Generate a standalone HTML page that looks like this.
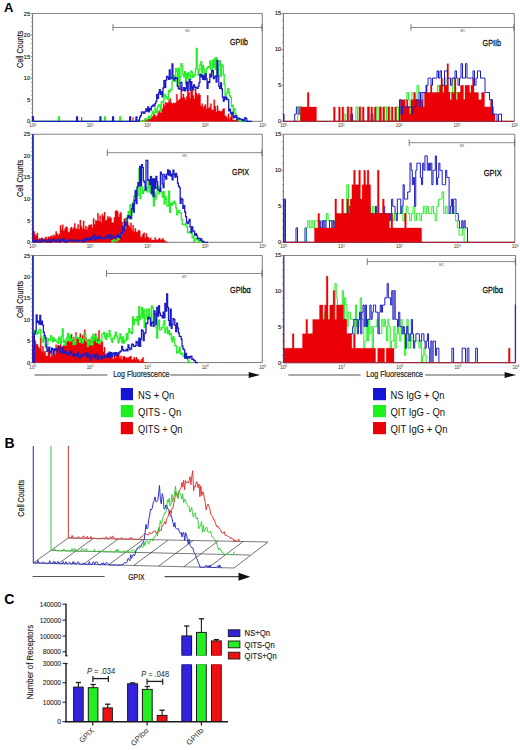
<!DOCTYPE html>
<html><head><meta charset="utf-8"><style>
html,body{margin:0;padding:0;background:#fff;}
svg{display:block;font-family:"Liberation Sans", sans-serif;}
</style></head><body>
<svg width="520" height="750" viewBox="0 0 520 750">
<rect width="520" height="750" fill="#fff"/>
<line x1="32.5" y1="13.5" x2="262.3" y2="13.5" stroke="#858585" stroke-width="1.1" />
<line x1="262.3" y1="13.5" x2="262.3" y2="121.3" stroke="#858585" stroke-width="1.1" />
<line x1="32.5" y1="13.5" x2="32.5" y2="121.3" stroke="#7a7a7a" stroke-width="1.1" />
<line x1="32.5" y1="121.3" x2="262.3" y2="121.3" stroke="#7a7a7a" stroke-width="1" />
<line x1="30.5" y1="121.3" x2="32.5" y2="121.3" stroke="#666" stroke-width="0.7" />
<line x1="31.3" y1="116.99" x2="32.5" y2="116.99" stroke="#666" stroke-width="0.7" />
<line x1="31.3" y1="112.68" x2="32.5" y2="112.68" stroke="#666" stroke-width="0.7" />
<line x1="31.3" y1="108.36" x2="32.5" y2="108.36" stroke="#666" stroke-width="0.7" />
<line x1="31.3" y1="104.05" x2="32.5" y2="104.05" stroke="#666" stroke-width="0.7" />
<line x1="30.5" y1="99.74" x2="32.5" y2="99.74" stroke="#666" stroke-width="0.7" />
<line x1="31.3" y1="95.43" x2="32.5" y2="95.43" stroke="#666" stroke-width="0.7" />
<line x1="31.3" y1="91.12" x2="32.5" y2="91.12" stroke="#666" stroke-width="0.7" />
<line x1="31.3" y1="86.8" x2="32.5" y2="86.8" stroke="#666" stroke-width="0.7" />
<line x1="31.3" y1="82.49" x2="32.5" y2="82.49" stroke="#666" stroke-width="0.7" />
<line x1="30.5" y1="78.18" x2="32.5" y2="78.18" stroke="#666" stroke-width="0.7" />
<line x1="31.3" y1="73.87" x2="32.5" y2="73.87" stroke="#666" stroke-width="0.7" />
<line x1="31.3" y1="69.56" x2="32.5" y2="69.56" stroke="#666" stroke-width="0.7" />
<line x1="31.3" y1="65.24" x2="32.5" y2="65.24" stroke="#666" stroke-width="0.7" />
<line x1="31.3" y1="60.93" x2="32.5" y2="60.93" stroke="#666" stroke-width="0.7" />
<line x1="30.5" y1="56.62" x2="32.5" y2="56.62" stroke="#666" stroke-width="0.7" />
<line x1="31.3" y1="52.31" x2="32.5" y2="52.31" stroke="#666" stroke-width="0.7" />
<line x1="31.3" y1="48" x2="32.5" y2="48" stroke="#666" stroke-width="0.7" />
<line x1="31.3" y1="43.68" x2="32.5" y2="43.68" stroke="#666" stroke-width="0.7" />
<line x1="31.3" y1="39.37" x2="32.5" y2="39.37" stroke="#666" stroke-width="0.7" />
<line x1="30.5" y1="35.06" x2="32.5" y2="35.06" stroke="#666" stroke-width="0.7" />
<line x1="31.3" y1="30.75" x2="32.5" y2="30.75" stroke="#666" stroke-width="0.7" />
<line x1="31.3" y1="26.44" x2="32.5" y2="26.44" stroke="#666" stroke-width="0.7" />
<line x1="31.3" y1="22.12" x2="32.5" y2="22.12" stroke="#666" stroke-width="0.7" />
<line x1="31.3" y1="17.81" x2="32.5" y2="17.81" stroke="#666" stroke-width="0.7" />
<line x1="30.5" y1="13.5" x2="32.5" y2="13.5" stroke="#666" stroke-width="0.7" />
<text x="30.1" y="123.3" font-size="5.6" text-anchor="end" fill="#222" stroke="#222" stroke-width="0.15" >0</text>
<text x="30.1" y="101.74" font-size="5.6" text-anchor="end" fill="#222" stroke="#222" stroke-width="0.15" >5</text>
<text x="30.1" y="80.18" font-size="5.6" text-anchor="end" fill="#222" stroke="#222" stroke-width="0.15" >10</text>
<text x="30.1" y="58.62" font-size="5.6" text-anchor="end" fill="#222" stroke="#222" stroke-width="0.15" >15</text>
<text x="30.1" y="37.06" font-size="5.6" text-anchor="end" fill="#222" stroke="#222" stroke-width="0.15" >20</text>
<text x="30.1" y="15.5" font-size="5.6" text-anchor="end" fill="#222" stroke="#222" stroke-width="0.15" >25</text>
<text x="32.8" y="127.2" font-size="4.6" text-anchor="middle" fill="#333">10<tspan dy="-1.6" font-size="3.2">0</tspan></text>
<text x="90.25" y="127.2" font-size="4.6" text-anchor="middle" fill="#333">10<tspan dy="-1.6" font-size="3.2">1</tspan></text>
<text x="147.7" y="127.2" font-size="4.6" text-anchor="middle" fill="#333">10<tspan dy="-1.6" font-size="3.2">2</tspan></text>
<text x="205.15" y="127.2" font-size="4.6" text-anchor="middle" fill="#333">10<tspan dy="-1.6" font-size="3.2">3</tspan></text>
<text x="262.6" y="127.2" font-size="4.6" text-anchor="middle" fill="#333">10<tspan dy="-1.6" font-size="3.2">4</tspan></text>
<line x1="283.4" y1="13.5" x2="514.3" y2="13.5" stroke="#858585" stroke-width="1.1" />
<line x1="514.3" y1="13.5" x2="514.3" y2="121.3" stroke="#858585" stroke-width="1.1" />
<line x1="283.4" y1="13.5" x2="283.4" y2="121.3" stroke="#7a7a7a" stroke-width="1.1" />
<line x1="283.4" y1="121.3" x2="514.3" y2="121.3" stroke="#7a7a7a" stroke-width="1" />
<line x1="281.4" y1="121.3" x2="283.4" y2="121.3" stroke="#666" stroke-width="0.7" />
<line x1="282.2" y1="114.11" x2="283.4" y2="114.11" stroke="#666" stroke-width="0.7" />
<line x1="282.2" y1="106.93" x2="283.4" y2="106.93" stroke="#666" stroke-width="0.7" />
<line x1="282.2" y1="99.74" x2="283.4" y2="99.74" stroke="#666" stroke-width="0.7" />
<line x1="282.2" y1="92.55" x2="283.4" y2="92.55" stroke="#666" stroke-width="0.7" />
<line x1="281.4" y1="85.37" x2="283.4" y2="85.37" stroke="#666" stroke-width="0.7" />
<line x1="282.2" y1="78.18" x2="283.4" y2="78.18" stroke="#666" stroke-width="0.7" />
<line x1="282.2" y1="70.99" x2="283.4" y2="70.99" stroke="#666" stroke-width="0.7" />
<line x1="282.2" y1="63.81" x2="283.4" y2="63.81" stroke="#666" stroke-width="0.7" />
<line x1="282.2" y1="56.62" x2="283.4" y2="56.62" stroke="#666" stroke-width="0.7" />
<line x1="281.4" y1="49.43" x2="283.4" y2="49.43" stroke="#666" stroke-width="0.7" />
<line x1="282.2" y1="42.25" x2="283.4" y2="42.25" stroke="#666" stroke-width="0.7" />
<line x1="282.2" y1="35.06" x2="283.4" y2="35.06" stroke="#666" stroke-width="0.7" />
<line x1="282.2" y1="27.87" x2="283.4" y2="27.87" stroke="#666" stroke-width="0.7" />
<line x1="282.2" y1="20.69" x2="283.4" y2="20.69" stroke="#666" stroke-width="0.7" />
<line x1="281.4" y1="13.5" x2="283.4" y2="13.5" stroke="#666" stroke-width="0.7" />
<text x="281.2" y="123.2" font-size="5.6" text-anchor="end" fill="#222" stroke="#222" stroke-width="0.15" >0</text>
<text x="281.2" y="87.27" font-size="5.6" text-anchor="end" fill="#222" stroke="#222" stroke-width="0.15" >5</text>
<text x="281.2" y="51.33" font-size="5.6" text-anchor="end" fill="#222" stroke="#222" stroke-width="0.15" >10</text>
<text x="281.2" y="15.4" font-size="5.6" text-anchor="end" fill="#222" stroke="#222" stroke-width="0.15" >15</text>
<text x="283.7" y="127.2" font-size="4.6" text-anchor="middle" fill="#333">10<tspan dy="-1.6" font-size="3.2">0</tspan></text>
<text x="341.43" y="127.2" font-size="4.6" text-anchor="middle" fill="#333">10<tspan dy="-1.6" font-size="3.2">1</tspan></text>
<text x="399.15" y="127.2" font-size="4.6" text-anchor="middle" fill="#333">10<tspan dy="-1.6" font-size="3.2">2</tspan></text>
<text x="456.87" y="127.2" font-size="4.6" text-anchor="middle" fill="#333">10<tspan dy="-1.6" font-size="3.2">3</tspan></text>
<text x="514.6" y="127.2" font-size="4.6" text-anchor="middle" fill="#333">10<tspan dy="-1.6" font-size="3.2">4</tspan></text>
<line x1="32.5" y1="134.2" x2="262.3" y2="134.2" stroke="#858585" stroke-width="1.1" />
<line x1="262.3" y1="134.2" x2="262.3" y2="242.3" stroke="#858585" stroke-width="1.1" />
<line x1="32.5" y1="134.2" x2="32.5" y2="242.3" stroke="#7a7a7a" stroke-width="1.1" />
<line x1="32.5" y1="242.3" x2="262.3" y2="242.3" stroke="#7a7a7a" stroke-width="1" />
<line x1="30.5" y1="242.3" x2="32.5" y2="242.3" stroke="#666" stroke-width="0.7" />
<line x1="31.3" y1="237.98" x2="32.5" y2="237.98" stroke="#666" stroke-width="0.7" />
<line x1="31.3" y1="233.65" x2="32.5" y2="233.65" stroke="#666" stroke-width="0.7" />
<line x1="31.3" y1="229.33" x2="32.5" y2="229.33" stroke="#666" stroke-width="0.7" />
<line x1="31.3" y1="225" x2="32.5" y2="225" stroke="#666" stroke-width="0.7" />
<line x1="30.5" y1="220.68" x2="32.5" y2="220.68" stroke="#666" stroke-width="0.7" />
<line x1="31.3" y1="216.36" x2="32.5" y2="216.36" stroke="#666" stroke-width="0.7" />
<line x1="31.3" y1="212.03" x2="32.5" y2="212.03" stroke="#666" stroke-width="0.7" />
<line x1="31.3" y1="207.71" x2="32.5" y2="207.71" stroke="#666" stroke-width="0.7" />
<line x1="31.3" y1="203.38" x2="32.5" y2="203.38" stroke="#666" stroke-width="0.7" />
<line x1="30.5" y1="199.06" x2="32.5" y2="199.06" stroke="#666" stroke-width="0.7" />
<line x1="31.3" y1="194.74" x2="32.5" y2="194.74" stroke="#666" stroke-width="0.7" />
<line x1="31.3" y1="190.41" x2="32.5" y2="190.41" stroke="#666" stroke-width="0.7" />
<line x1="31.3" y1="186.09" x2="32.5" y2="186.09" stroke="#666" stroke-width="0.7" />
<line x1="31.3" y1="181.76" x2="32.5" y2="181.76" stroke="#666" stroke-width="0.7" />
<line x1="30.5" y1="177.44" x2="32.5" y2="177.44" stroke="#666" stroke-width="0.7" />
<line x1="31.3" y1="173.12" x2="32.5" y2="173.12" stroke="#666" stroke-width="0.7" />
<line x1="31.3" y1="168.79" x2="32.5" y2="168.79" stroke="#666" stroke-width="0.7" />
<line x1="31.3" y1="164.47" x2="32.5" y2="164.47" stroke="#666" stroke-width="0.7" />
<line x1="31.3" y1="160.14" x2="32.5" y2="160.14" stroke="#666" stroke-width="0.7" />
<line x1="30.5" y1="155.82" x2="32.5" y2="155.82" stroke="#666" stroke-width="0.7" />
<line x1="31.3" y1="151.5" x2="32.5" y2="151.5" stroke="#666" stroke-width="0.7" />
<line x1="31.3" y1="147.17" x2="32.5" y2="147.17" stroke="#666" stroke-width="0.7" />
<line x1="31.3" y1="142.85" x2="32.5" y2="142.85" stroke="#666" stroke-width="0.7" />
<line x1="31.3" y1="138.52" x2="32.5" y2="138.52" stroke="#666" stroke-width="0.7" />
<line x1="30.5" y1="134.2" x2="32.5" y2="134.2" stroke="#666" stroke-width="0.7" />
<text x="30.1" y="244.3" font-size="5.6" text-anchor="end" fill="#222" stroke="#222" stroke-width="0.15" >0</text>
<text x="30.1" y="222.68" font-size="5.6" text-anchor="end" fill="#222" stroke="#222" stroke-width="0.15" >5</text>
<text x="30.1" y="201.06" font-size="5.6" text-anchor="end" fill="#222" stroke="#222" stroke-width="0.15" >10</text>
<text x="30.1" y="179.44" font-size="5.6" text-anchor="end" fill="#222" stroke="#222" stroke-width="0.15" >15</text>
<text x="30.1" y="157.82" font-size="5.6" text-anchor="end" fill="#222" stroke="#222" stroke-width="0.15" >20</text>
<text x="30.1" y="136.2" font-size="5.6" text-anchor="end" fill="#222" stroke="#222" stroke-width="0.15" >25</text>
<text x="32.8" y="248.2" font-size="4.6" text-anchor="middle" fill="#333">10<tspan dy="-1.6" font-size="3.2">0</tspan></text>
<text x="90.25" y="248.2" font-size="4.6" text-anchor="middle" fill="#333">10<tspan dy="-1.6" font-size="3.2">1</tspan></text>
<text x="147.7" y="248.2" font-size="4.6" text-anchor="middle" fill="#333">10<tspan dy="-1.6" font-size="3.2">2</tspan></text>
<text x="205.15" y="248.2" font-size="4.6" text-anchor="middle" fill="#333">10<tspan dy="-1.6" font-size="3.2">3</tspan></text>
<text x="262.6" y="248.2" font-size="4.6" text-anchor="middle" fill="#333">10<tspan dy="-1.6" font-size="3.2">4</tspan></text>
<line x1="283.4" y1="134.2" x2="514.8" y2="134.2" stroke="#858585" stroke-width="1.1" />
<line x1="514.8" y1="134.2" x2="514.8" y2="242.3" stroke="#858585" stroke-width="1.1" />
<line x1="283.4" y1="134.2" x2="283.4" y2="242.3" stroke="#7a7a7a" stroke-width="1.1" />
<line x1="283.4" y1="242.3" x2="514.8" y2="242.3" stroke="#7a7a7a" stroke-width="1" />
<line x1="281.4" y1="242.3" x2="283.4" y2="242.3" stroke="#666" stroke-width="0.7" />
<line x1="282.2" y1="235.09" x2="283.4" y2="235.09" stroke="#666" stroke-width="0.7" />
<line x1="282.2" y1="227.89" x2="283.4" y2="227.89" stroke="#666" stroke-width="0.7" />
<line x1="282.2" y1="220.68" x2="283.4" y2="220.68" stroke="#666" stroke-width="0.7" />
<line x1="282.2" y1="213.47" x2="283.4" y2="213.47" stroke="#666" stroke-width="0.7" />
<line x1="281.4" y1="206.27" x2="283.4" y2="206.27" stroke="#666" stroke-width="0.7" />
<line x1="282.2" y1="199.06" x2="283.4" y2="199.06" stroke="#666" stroke-width="0.7" />
<line x1="282.2" y1="191.85" x2="283.4" y2="191.85" stroke="#666" stroke-width="0.7" />
<line x1="282.2" y1="184.65" x2="283.4" y2="184.65" stroke="#666" stroke-width="0.7" />
<line x1="282.2" y1="177.44" x2="283.4" y2="177.44" stroke="#666" stroke-width="0.7" />
<line x1="281.4" y1="170.23" x2="283.4" y2="170.23" stroke="#666" stroke-width="0.7" />
<line x1="282.2" y1="163.03" x2="283.4" y2="163.03" stroke="#666" stroke-width="0.7" />
<line x1="282.2" y1="155.82" x2="283.4" y2="155.82" stroke="#666" stroke-width="0.7" />
<line x1="282.2" y1="148.61" x2="283.4" y2="148.61" stroke="#666" stroke-width="0.7" />
<line x1="282.2" y1="141.41" x2="283.4" y2="141.41" stroke="#666" stroke-width="0.7" />
<line x1="281.4" y1="134.2" x2="283.4" y2="134.2" stroke="#666" stroke-width="0.7" />
<text x="281.2" y="244.2" font-size="5.6" text-anchor="end" fill="#222" stroke="#222" stroke-width="0.15" >0</text>
<text x="281.2" y="208.17" font-size="5.6" text-anchor="end" fill="#222" stroke="#222" stroke-width="0.15" >5</text>
<text x="281.2" y="172.13" font-size="5.6" text-anchor="end" fill="#222" stroke="#222" stroke-width="0.15" >10</text>
<text x="281.2" y="136.1" font-size="5.6" text-anchor="end" fill="#222" stroke="#222" stroke-width="0.15" >15</text>
<text x="283.7" y="248.2" font-size="4.6" text-anchor="middle" fill="#333">10<tspan dy="-1.6" font-size="3.2">0</tspan></text>
<text x="341.55" y="248.2" font-size="4.6" text-anchor="middle" fill="#333">10<tspan dy="-1.6" font-size="3.2">1</tspan></text>
<text x="399.4" y="248.2" font-size="4.6" text-anchor="middle" fill="#333">10<tspan dy="-1.6" font-size="3.2">2</tspan></text>
<text x="457.25" y="248.2" font-size="4.6" text-anchor="middle" fill="#333">10<tspan dy="-1.6" font-size="3.2">3</tspan></text>
<text x="515.1" y="248.2" font-size="4.6" text-anchor="middle" fill="#333">10<tspan dy="-1.6" font-size="3.2">4</tspan></text>
<line x1="32.5" y1="255.5" x2="262.3" y2="255.5" stroke="#858585" stroke-width="1.1" />
<line x1="262.3" y1="255.5" x2="262.3" y2="362.6" stroke="#858585" stroke-width="1.1" />
<line x1="32.5" y1="255.5" x2="32.5" y2="362.6" stroke="#7a7a7a" stroke-width="1.1" />
<line x1="32.5" y1="362.6" x2="262.3" y2="362.6" stroke="#7a7a7a" stroke-width="1" />
<line x1="30.5" y1="362.6" x2="32.5" y2="362.6" stroke="#666" stroke-width="0.7" />
<line x1="31.3" y1="358.32" x2="32.5" y2="358.32" stroke="#666" stroke-width="0.7" />
<line x1="31.3" y1="354.03" x2="32.5" y2="354.03" stroke="#666" stroke-width="0.7" />
<line x1="31.3" y1="349.75" x2="32.5" y2="349.75" stroke="#666" stroke-width="0.7" />
<line x1="31.3" y1="345.46" x2="32.5" y2="345.46" stroke="#666" stroke-width="0.7" />
<line x1="30.5" y1="341.18" x2="32.5" y2="341.18" stroke="#666" stroke-width="0.7" />
<line x1="31.3" y1="336.9" x2="32.5" y2="336.9" stroke="#666" stroke-width="0.7" />
<line x1="31.3" y1="332.61" x2="32.5" y2="332.61" stroke="#666" stroke-width="0.7" />
<line x1="31.3" y1="328.33" x2="32.5" y2="328.33" stroke="#666" stroke-width="0.7" />
<line x1="31.3" y1="324.04" x2="32.5" y2="324.04" stroke="#666" stroke-width="0.7" />
<line x1="30.5" y1="319.76" x2="32.5" y2="319.76" stroke="#666" stroke-width="0.7" />
<line x1="31.3" y1="315.48" x2="32.5" y2="315.48" stroke="#666" stroke-width="0.7" />
<line x1="31.3" y1="311.19" x2="32.5" y2="311.19" stroke="#666" stroke-width="0.7" />
<line x1="31.3" y1="306.91" x2="32.5" y2="306.91" stroke="#666" stroke-width="0.7" />
<line x1="31.3" y1="302.62" x2="32.5" y2="302.62" stroke="#666" stroke-width="0.7" />
<line x1="30.5" y1="298.34" x2="32.5" y2="298.34" stroke="#666" stroke-width="0.7" />
<line x1="31.3" y1="294.06" x2="32.5" y2="294.06" stroke="#666" stroke-width="0.7" />
<line x1="31.3" y1="289.77" x2="32.5" y2="289.77" stroke="#666" stroke-width="0.7" />
<line x1="31.3" y1="285.49" x2="32.5" y2="285.49" stroke="#666" stroke-width="0.7" />
<line x1="31.3" y1="281.2" x2="32.5" y2="281.2" stroke="#666" stroke-width="0.7" />
<line x1="30.5" y1="276.92" x2="32.5" y2="276.92" stroke="#666" stroke-width="0.7" />
<line x1="31.3" y1="272.64" x2="32.5" y2="272.64" stroke="#666" stroke-width="0.7" />
<line x1="31.3" y1="268.35" x2="32.5" y2="268.35" stroke="#666" stroke-width="0.7" />
<line x1="31.3" y1="264.07" x2="32.5" y2="264.07" stroke="#666" stroke-width="0.7" />
<line x1="31.3" y1="259.78" x2="32.5" y2="259.78" stroke="#666" stroke-width="0.7" />
<line x1="30.5" y1="255.5" x2="32.5" y2="255.5" stroke="#666" stroke-width="0.7" />
<text x="30.1" y="364.6" font-size="5.6" text-anchor="end" fill="#222" stroke="#222" stroke-width="0.15" >0</text>
<text x="30.1" y="343.18" font-size="5.6" text-anchor="end" fill="#222" stroke="#222" stroke-width="0.15" >5</text>
<text x="30.1" y="321.76" font-size="5.6" text-anchor="end" fill="#222" stroke="#222" stroke-width="0.15" >10</text>
<text x="30.1" y="300.34" font-size="5.6" text-anchor="end" fill="#222" stroke="#222" stroke-width="0.15" >15</text>
<text x="30.1" y="278.92" font-size="5.6" text-anchor="end" fill="#222" stroke="#222" stroke-width="0.15" >20</text>
<text x="30.1" y="257.5" font-size="5.6" text-anchor="end" fill="#222" stroke="#222" stroke-width="0.15" >25</text>
<text x="32.8" y="368.5" font-size="4.6" text-anchor="middle" fill="#333">10<tspan dy="-1.6" font-size="3.2">0</tspan></text>
<text x="90.25" y="368.5" font-size="4.6" text-anchor="middle" fill="#333">10<tspan dy="-1.6" font-size="3.2">1</tspan></text>
<text x="147.7" y="368.5" font-size="4.6" text-anchor="middle" fill="#333">10<tspan dy="-1.6" font-size="3.2">2</tspan></text>
<text x="205.15" y="368.5" font-size="4.6" text-anchor="middle" fill="#333">10<tspan dy="-1.6" font-size="3.2">3</tspan></text>
<text x="262.6" y="368.5" font-size="4.6" text-anchor="middle" fill="#333">10<tspan dy="-1.6" font-size="3.2">4</tspan></text>
<line x1="283.4" y1="255.5" x2="515.6" y2="255.5" stroke="#858585" stroke-width="1.1" />
<line x1="515.6" y1="255.5" x2="515.6" y2="362.6" stroke="#858585" stroke-width="1.1" />
<line x1="283.4" y1="255.5" x2="283.4" y2="362.6" stroke="#7a7a7a" stroke-width="1.1" />
<line x1="283.4" y1="362.6" x2="515.6" y2="362.6" stroke="#7a7a7a" stroke-width="1" />
<line x1="281.4" y1="362.6" x2="283.4" y2="362.6" stroke="#666" stroke-width="0.7" />
<line x1="282.2" y1="355.46" x2="283.4" y2="355.46" stroke="#666" stroke-width="0.7" />
<line x1="282.2" y1="348.32" x2="283.4" y2="348.32" stroke="#666" stroke-width="0.7" />
<line x1="282.2" y1="341.18" x2="283.4" y2="341.18" stroke="#666" stroke-width="0.7" />
<line x1="282.2" y1="334.04" x2="283.4" y2="334.04" stroke="#666" stroke-width="0.7" />
<line x1="281.4" y1="326.9" x2="283.4" y2="326.9" stroke="#666" stroke-width="0.7" />
<line x1="282.2" y1="319.76" x2="283.4" y2="319.76" stroke="#666" stroke-width="0.7" />
<line x1="282.2" y1="312.62" x2="283.4" y2="312.62" stroke="#666" stroke-width="0.7" />
<line x1="282.2" y1="305.48" x2="283.4" y2="305.48" stroke="#666" stroke-width="0.7" />
<line x1="282.2" y1="298.34" x2="283.4" y2="298.34" stroke="#666" stroke-width="0.7" />
<line x1="281.4" y1="291.2" x2="283.4" y2="291.2" stroke="#666" stroke-width="0.7" />
<line x1="282.2" y1="284.06" x2="283.4" y2="284.06" stroke="#666" stroke-width="0.7" />
<line x1="282.2" y1="276.92" x2="283.4" y2="276.92" stroke="#666" stroke-width="0.7" />
<line x1="282.2" y1="269.78" x2="283.4" y2="269.78" stroke="#666" stroke-width="0.7" />
<line x1="282.2" y1="262.64" x2="283.4" y2="262.64" stroke="#666" stroke-width="0.7" />
<line x1="281.4" y1="255.5" x2="283.4" y2="255.5" stroke="#666" stroke-width="0.7" />
<text x="281.2" y="364.5" font-size="5.6" text-anchor="end" fill="#222" stroke="#222" stroke-width="0.15" >0</text>
<text x="281.2" y="328.8" font-size="5.6" text-anchor="end" fill="#222" stroke="#222" stroke-width="0.15" >5</text>
<text x="281.2" y="293.1" font-size="5.6" text-anchor="end" fill="#222" stroke="#222" stroke-width="0.15" >10</text>
<text x="281.2" y="257.4" font-size="5.6" text-anchor="end" fill="#222" stroke="#222" stroke-width="0.15" >15</text>
<text x="283.7" y="368.5" font-size="4.6" text-anchor="middle" fill="#333">10<tspan dy="-1.6" font-size="3.2">0</tspan></text>
<text x="341.75" y="368.5" font-size="4.6" text-anchor="middle" fill="#333">10<tspan dy="-1.6" font-size="3.2">1</tspan></text>
<text x="399.8" y="368.5" font-size="4.6" text-anchor="middle" fill="#333">10<tspan dy="-1.6" font-size="3.2">2</tspan></text>
<text x="457.85" y="368.5" font-size="4.6" text-anchor="middle" fill="#333">10<tspan dy="-1.6" font-size="3.2">3</tspan></text>
<text x="515.9" y="368.5" font-size="4.6" text-anchor="middle" fill="#333">10<tspan dy="-1.6" font-size="3.2">4</tspan></text>
<path d="M140,121.3L140,121.3L141.1,121.3L141.1,121.3L142.2,121.3L142.2,120.55L143.3,120.55L143.3,121.3L144.4,121.3L144.4,119.57L145.5,119.57L145.5,119.59L146.6,119.59L146.6,119.54L147.7,119.54L147.7,118.32L148.8,118.32L148.8,117.51L149.9,117.51L149.9,118.46L151,118.46L151,117.62L152.1,117.62L152.1,116.61L153.2,116.61L153.2,114.7L154.3,114.7L154.3,114.39L155.4,114.39L155.4,116.39L156.5,116.39L156.5,115.73L157.6,115.73L157.6,112.67L158.7,112.67L158.7,110.72L159.8,110.72L159.8,112.38L160.9,112.38L160.9,112.72L162,112.72L162,108.65L163.1,108.65L163.1,103.57L164.2,103.57L164.2,105.77L165.3,105.77L165.3,102.33L166.4,102.33L166.4,102.99L167.5,102.99L167.5,103.09L168.6,103.09L168.6,100.6L169.7,100.6L169.7,98.47L170.8,98.47L170.8,102.71L171.9,102.71L171.9,103.63L173,103.63L173,102.77L174.1,102.77L174.1,103.43L175.2,103.43L175.2,102.73L176.3,102.73L176.3,94.37L177.4,94.37L177.4,100.78L178.5,100.78L178.5,100.11L179.6,100.11L179.6,98.78L180.7,98.78L180.7,86.55L181.8,86.55L181.8,97.64L182.9,97.64L182.9,94.08L184,94.08L184,97.68L185.1,97.68L185.1,99.91L186.2,99.91L186.2,96.41L187.3,96.41L187.3,90.33L188.4,90.33L188.4,92.23L189.5,92.23L189.5,98.36L190.6,98.36L190.6,85.3L191.7,85.3L191.7,90.03L192.8,90.03L192.8,95.4L193.9,95.4L193.9,99.02L195,99.02L195,88.65L196.1,88.65L196.1,93.3L197.2,93.3L197.2,95.22L198.3,95.22L198.3,93.39L199.4,93.39L199.4,95.01L200.5,95.01L200.5,106.04L201.6,106.04L201.6,103.63L202.7,103.63L202.7,107.57L203.8,107.57L203.8,105.92L204.9,105.92L204.9,104.61L206,104.61L206,108.82L207.1,108.82L207.1,95.37L208.2,95.37L208.2,108.24L209.3,108.24L209.3,107.36L210.4,107.36L210.4,103.72L211.5,103.72L211.5,109.86L212.6,109.86L212.6,110.1L213.7,110.1L213.7,99.87L214.8,99.87L214.8,106.37L215.9,106.37L215.9,112.05L217,112.05L217,105.68L218.1,105.68L218.1,110.91L219.2,110.91L219.2,110.84L220.3,110.84L220.3,111.73L221.4,111.73L221.4,110.96L222.5,110.96L222.5,109.03L223.6,109.03L223.6,108.52L224.7,108.52L224.7,115.76L225.8,115.76L225.8,116.38L226.9,116.38L226.9,118.36L228,118.36L228,113.87L229.1,113.87L229.1,119.19L230.2,119.19L230.2,116.72L231.3,116.72L231.3,114.37L232.4,114.37L232.4,119.84L233.5,119.84L233.5,119.98L234.6,119.98L234.6,120.31L235.7,120.31L235.7,119.66L236.8,119.66L236.8,121.1L237.9,121.1L237.9,121.22L239,121.22L239,121.3L240.1,121.3L240.1,121.3L241.2,121.3L241.2,121.3L242,121.3L242,121.3Z" fill="#ea0006" stroke="#ea0006" stroke-width="0.4" stroke-linejoin="miter" opacity="1.0"/>
<path d="M32.5,121.3L32.5,121.3L33.4,121.3L33.4,121.3L34.3,121.3L34.3,121.3L35.2,121.3L35.2,121.3L36.1,121.3L36.1,121.3L37,121.3L37,121.3L37.9,121.3L37.9,121.3L38.8,121.3L38.8,121.3L39.7,121.3L39.7,121.3L40.6,121.3L40.6,121.3L41.5,121.3L41.5,121.3L42.4,121.3L42.4,121.3L43.3,121.3L43.3,121.3L44.2,121.3L44.2,121.3L45.1,121.3L45.1,121.3L46,121.3L46,121.3L46.9,121.3L46.9,121.3L47.8,121.3L47.8,121.3L48.7,121.3L48.7,121.3L49.6,121.3L49.6,121.3L50.5,121.3L50.5,121.3L51.4,121.3L51.4,121.3L52.3,121.3L52.3,121.3L53.2,121.3L53.2,121.3L54.1,121.3L54.1,121.3L55,121.3L55,121.3L55.9,121.3L55.9,121.3L56.8,121.3L56.8,121.3L57.7,121.3L57.7,121.3L58.6,121.3L58.6,117L59.5,117L59.5,121.3L60.4,121.3L60.4,121.3L61.3,121.3L61.3,121.3L62.2,121.3L62.2,121.3L63.1,121.3L63.1,121.3L64,121.3L64,121.3L64.9,121.3L64.9,121.3L65.8,121.3L65.8,121.3L66.7,121.3L66.7,121.3L67.6,121.3L67.6,121.3L68.5,121.3L68.5,121.3L69.4,121.3L69.4,121.3L70.3,121.3L70.3,121.3L71.2,121.3L71.2,121.3L72.1,121.3L72.1,121.3L73,121.3L73,121.3L73.9,121.3L73.9,121.3L74.8,121.3L74.8,121.3L75.7,121.3L75.7,121.3L76.6,121.3L76.6,121.3L77.5,121.3L77.5,121.3L78.4,121.3L78.4,121.3L79.3,121.3L79.3,121.3L80.2,121.3L80.2,121.3L81.1,121.3L81.1,121.3L82,121.3L82,121.3L82.9,121.3L82.9,121.3L83.8,121.3L83.8,121.3L84.7,121.3L84.7,121.3L85.6,121.3L85.6,121.3L86.5,121.3L86.5,121.3L87.4,121.3L87.4,121.3L88.3,121.3L88.3,121.3L89.2,121.3L89.2,121.3L90.1,121.3L90.1,121.3L91,121.3L91,121.3L91.9,121.3L91.9,121.3L92.8,121.3L92.8,121.3L93.7,121.3L93.7,121.3L94.6,121.3L94.6,121.3L95.5,121.3L95.5,121.3L96.4,121.3L96.4,121.3L97.3,121.3L97.3,121.3L98.2,121.3L98.2,121.3L99.1,121.3L99.1,121.3L100,121.3L100,121.3L100.9,121.3L100.9,121.3L101.8,121.3L101.8,121.3L102.7,121.3L102.7,121.3L103.6,121.3L103.6,121.3L104.5,121.3L104.5,117L105.4,117L105.4,121.3L106.3,121.3L106.3,121.3L107.2,121.3L107.2,121.3L108.1,121.3L108.1,121.3L109,121.3L109,121.3L109.9,121.3L109.9,121.3L110.8,121.3L110.8,121.3L111.7,121.3L111.7,121.3L112.6,121.3L112.6,121.3L113.5,121.3L113.5,121.3L114.4,121.3L114.4,121.3L115.3,121.3L115.3,121.3L116.2,121.3L116.2,121.3L117.1,121.3L117.1,121.3L118,121.3L118,121.3L118.9,121.3L118.9,121.3L119.8,121.3L119.8,117L120.7,117L120.7,121.3L121.6,121.3L121.6,121.3L122.5,121.3L122.5,121.3L123.4,121.3L123.4,121.3L124.3,121.3L124.3,121.3L125.2,121.3L125.2,121.3L126.1,121.3L126.1,121.3L127,121.3L127,121.3L127.9,121.3L127.9,121.3L128.8,121.3L128.8,121.3L129.7,121.3L129.7,121.3L130.6,121.3L130.6,121.3L131.5,121.3L131.5,121.3L132.4,121.3L132.4,121.3L133.3,121.3L133.3,121.3L134.2,121.3L134.2,121.3L135.1,121.3L135.1,121.3L136,121.3L136,121.3L136.9,121.3L136.9,121.3L137.8,121.3L137.8,121.3L138.7,121.3L138.7,121.3L139.6,121.3L139.6,121.3L140.5,121.3L140.5,121.3L141.4,121.3L141.4,121.3L142.3,121.3L142.3,121.3L143.2,121.3L143.2,121.3L144.1,121.3L144.1,121.3L145,121.3L145,118.58L145.9,118.58L145.9,119.01L146.8,119.01L146.8,119.79L147.7,119.79L147.7,118.25L148.6,118.25L148.6,116.25L149.5,116.25L149.5,118.35L150.4,118.35L150.4,116.9L151.3,116.9L151.3,114.61L152.2,114.61L152.2,111.43L153.1,111.43L153.1,113.3L154,113.3L154,112.7L154.9,112.7L154.9,108.07L155.8,108.07L155.8,112.68L156.7,112.68L156.7,111.03L157.6,111.03L157.6,106.62L158.5,106.62L158.5,104.93L159.4,104.93L159.4,105.2L160.3,105.2L160.3,111.62L161.2,111.62L161.2,102.24L162.1,102.24L162.1,101.28L163,101.28L163,101.83L163.9,101.83L163.9,98.64L164.8,98.64L164.8,94.34L165.7,94.34L165.7,96.53L166.6,96.53L166.6,97.94L167.5,97.94L167.5,99.39L168.4,99.39L168.4,90.67L169.3,90.67L169.3,91.77L170.2,91.77L170.2,89.34L171.1,89.34L171.1,89.72L172,89.72L172,81.3L172.9,81.3L172.9,76.73L173.8,76.73L173.8,75.72L174.7,75.72L174.7,81.25L175.6,81.25L175.6,68.53L176.5,68.53L176.5,70.98L177.4,70.98L177.4,85.58L178.3,85.58L178.3,68.2L179.2,68.2L179.2,82.14L180.1,82.14L180.1,76.63L181,76.63L181,63.69L181.9,63.69L181.9,66.09L182.8,66.09L182.8,74.53L183.7,74.53L183.7,76.96L184.6,76.96L184.6,71.53L185.5,71.53L185.5,83.92L186.4,83.92L186.4,73.67L187.3,73.67L187.3,78.42L188.2,78.42L188.2,72.55L189.1,72.55L189.1,75.47L190,75.47L190,79.16L190.9,79.16L190.9,70.84L191.8,70.84L191.8,72.45L192.7,72.45L192.7,77.35L193.6,77.35L193.6,75.77L194.5,75.77L194.5,74.76L195.4,74.76L195.4,68.61L196.3,68.61L196.3,48.3L197.2,48.3L197.2,68.8L198.1,68.8L198.1,75.44L199,75.44L199,70.58L199.9,70.58L199.9,64.88L200.8,64.88L200.8,61.54L201.7,61.54L201.7,72.94L202.6,72.94L202.6,65.41L203.5,65.41L203.5,69.03L204.4,69.03L204.4,79.17L205.3,79.17L205.3,73.61L206.2,73.61L206.2,68.73L207.1,68.73L207.1,67.92L208,67.92L208,66.66L208.9,66.66L208.9,67.42L209.8,67.42L209.8,61.01L210.7,61.01L210.7,69.27L211.6,69.27L211.6,73.22L212.5,73.22L212.5,60.14L213.4,60.14L213.4,67.15L214.3,67.15L214.3,58.38L215.2,58.38L215.2,69.33L216.1,69.33L216.1,57.58L217,57.58L217,74.05L217.9,74.05L217.9,74.96L218.8,74.96L218.8,65.29L219.7,65.29L219.7,60.59L220.6,60.59L220.6,76.05L221.5,76.05L221.5,64.49L222.4,64.49L222.4,66.11L223.3,66.11L223.3,74.59L224.2,74.59L224.2,84.33L225.1,84.33L225.1,95.27L226,95.27L226,93.94L226.9,93.94L226.9,92.22L227.8,92.22L227.8,88.61L228.7,88.61L228.7,92.64L229.6,92.64L229.6,95.86L230.5,95.86L230.5,97.6L231.4,97.6L231.4,106.69L232.3,106.69L232.3,105.11L233.2,105.11L233.2,110.64L234.1,110.64L234.1,108.73L235,108.73L235,113.48L235.9,113.48L235.9,116.89L236.8,116.89L236.8,117.61L237.7,117.61L237.7,120.08L238.6,120.08L238.6,118.92L239.5,118.92L239.5,121.3L240.4,121.3L240.4,120.85L241.3,120.85L241.3,120.02L242.2,120.02L242.2,121.3L243.1,121.3L243.1,121.3L244,121.3L244,121.3L244.9,121.3L244.9,121.3L245.8,121.3L245.8,121.3L246.7,121.3L246.7,121.3L247.6,121.3L247.6,121.3L248.5,121.3L248.5,121.3L249.4,121.3L249.4,121.3L250,121.3L250,121.3" fill="none" stroke="#26ee26" stroke-width="1.3" stroke-linejoin="miter" opacity="1.0"/>
<path d="M32.5,121.3L32.5,117L33.4,117L33.4,121.3L34.3,121.3L34.3,121.3L35.2,121.3L35.2,121.3L36.1,121.3L36.1,121.3L37,121.3L37,121.3L37.9,121.3L37.9,121.3L38.8,121.3L38.8,121.3L39.7,121.3L39.7,121.3L40.6,121.3L40.6,121.3L41.5,121.3L41.5,121.3L42.4,121.3L42.4,121.3L43.3,121.3L43.3,121.3L44.2,121.3L44.2,121.3L45.1,121.3L45.1,121.3L46,121.3L46,121.3L46.9,121.3L46.9,121.3L47.8,121.3L47.8,121.3L48.7,121.3L48.7,121.3L49.6,121.3L49.6,121.3L50.5,121.3L50.5,121.3L51.4,121.3L51.4,121.3L52.3,121.3L52.3,121.3L53.2,121.3L53.2,121.3L54.1,121.3L54.1,121.3L55,121.3L55,121.3L55.9,121.3L55.9,121.3L56.8,121.3L56.8,121.3L57.7,121.3L57.7,121.3L58.6,121.3L58.6,121.3L59.5,121.3L59.5,121.3L60.4,121.3L60.4,121.3L61.3,121.3L61.3,121.3L62.2,121.3L62.2,121.3L63.1,121.3L63.1,121.3L64,121.3L64,121.3L64.9,121.3L64.9,121.3L65.8,121.3L65.8,121.3L66.7,121.3L66.7,121.3L67.6,121.3L67.6,121.3L68.5,121.3L68.5,121.3L69.4,121.3L69.4,121.3L70.3,121.3L70.3,121.3L71.2,121.3L71.2,121.3L72.1,121.3L72.1,121.3L73,121.3L73,121.3L73.9,121.3L73.9,121.3L74.8,121.3L74.8,121.3L75.7,121.3L75.7,121.3L76.6,121.3L76.6,117L77.5,117L77.5,121.3L78.4,121.3L78.4,121.3L79.3,121.3L79.3,121.3L80.2,121.3L80.2,121.3L81.1,121.3L81.1,121.3L82,121.3L82,121.3L82.9,121.3L82.9,121.3L83.8,121.3L83.8,121.3L84.7,121.3L84.7,121.3L85.6,121.3L85.6,121.3L86.5,121.3L86.5,121.3L87.4,121.3L87.4,121.3L88.3,121.3L88.3,121.3L89.2,121.3L89.2,121.3L90.1,121.3L90.1,121.3L91,121.3L91,121.3L91.9,121.3L91.9,121.3L92.8,121.3L92.8,121.3L93.7,121.3L93.7,121.3L94.6,121.3L94.6,121.3L95.5,121.3L95.5,121.3L96.4,121.3L96.4,121.3L97.3,121.3L97.3,121.3L98.2,121.3L98.2,121.3L99.1,121.3L99.1,121.3L100,121.3L100,117L100.9,117L100.9,121.3L101.8,121.3L101.8,121.3L102.7,121.3L102.7,121.3L103.6,121.3L103.6,121.3L104.5,121.3L104.5,121.3L105.4,121.3L105.4,121.3L106.3,121.3L106.3,121.3L107.2,121.3L107.2,121.3L108.1,121.3L108.1,121.3L109,121.3L109,121.3L109.9,121.3L109.9,121.3L110.8,121.3L110.8,121.3L111.7,121.3L111.7,121.3L112.6,121.3L112.6,117L113.5,117L113.5,121.3L114.4,121.3L114.4,121.3L115.3,121.3L115.3,121.3L116.2,121.3L116.2,121.3L117.1,121.3L117.1,121.3L118,121.3L118,121.3L118.9,121.3L118.9,121.3L119.8,121.3L119.8,121.3L120.7,121.3L120.7,121.3L121.6,121.3L121.6,121.3L122.5,121.3L122.5,121.3L123.4,121.3L123.4,121.3L124.3,121.3L124.3,121.3L125.2,121.3L125.2,121.3L126.1,121.3L126.1,121.3L127,121.3L127,121.3L127.9,121.3L127.9,121.3L128.8,121.3L128.8,121.3L129.7,121.3L129.7,117L130.6,117L130.6,121.3L131.5,121.3L131.5,121.3L132.4,121.3L132.4,121.3L133.3,121.3L133.3,121.3L134.2,121.3L134.2,121.3L135.1,121.3L135.1,121.3L136,121.3L136,117L136.9,117L136.9,121.3L137.8,121.3L137.8,121.3L138.7,121.3L138.7,120.26L139.6,120.26L139.6,117.13L140.5,117.13L140.5,115.71L141.4,115.71L141.4,112.15L142.3,112.15L142.3,111.99L143.2,111.99L143.2,113.39L144.1,113.39L144.1,113.2L145,113.2L145,111.58L145.9,111.58L145.9,108.99L146.8,108.99L146.8,111.01L147.7,111.01L147.7,106.95L148.6,106.95L148.6,111.79L149.5,111.79L149.5,108.7L150.4,108.7L150.4,109.83L151.3,109.83L151.3,106.7L152.2,106.7L152.2,105.78L153.1,105.78L153.1,104.84L154,104.84L154,106.1L154.9,106.1L154.9,103.64L155.8,103.64L155.8,101.46L156.7,101.46L156.7,94.77L157.6,94.77L157.6,98.31L158.5,98.31L158.5,92.85L159.4,92.85L159.4,89.64L160.3,89.64L160.3,94.39L161.2,94.39L161.2,91.6L162.1,91.6L162.1,96.79L163,96.79L163,87.98L163.9,87.98L163.9,80.6L164.8,80.6L164.8,87.41L165.7,87.41L165.7,80.11L166.6,80.11L166.6,76.51L167.5,76.51L167.5,76.98L168.4,76.98L168.4,79.39L169.3,79.39L169.3,69.8L170.2,69.8L170.2,78.92L171.1,78.92L171.1,77.83L172,77.83L172,63.78L172.9,63.78L172.9,78.71L173.8,78.71L173.8,80.18L174.7,80.18L174.7,77.56L175.6,77.56L175.6,78.57L176.5,78.57L176.5,78L177.4,78L177.4,86.41L178.3,86.41L178.3,88.64L179.2,88.64L179.2,89.13L180.1,89.13L180.1,82.72L181,82.72L181,82.33L181.9,82.33L181.9,90.7L182.8,90.7L182.8,90.17L183.7,90.17L183.7,87.64L184.6,87.64L184.6,90.86L185.5,90.86L185.5,88.4L186.4,88.4L186.4,81.79L187.3,81.79L187.3,90.34L188.2,90.34L188.2,82.95L189.1,82.95L189.1,79.68L190,79.68L190,90.01L190.9,90.01L190.9,81.63L191.8,81.63L191.8,86.88L192.7,86.88L192.7,89.78L193.6,89.78L193.6,84.8L194.5,84.8L194.5,87.05L195.4,87.05L195.4,87.44L196.3,87.44L196.3,87.99L197.2,87.99L197.2,88.27L198.1,88.27L198.1,86.17L199,86.17L199,82.61L199.9,82.61L199.9,74.16L200.8,74.16L200.8,76.84L201.7,76.84L201.7,74.98L202.6,74.98L202.6,79.28L203.5,79.28L203.5,75.93L204.4,75.93L204.4,79.5L205.3,79.5L205.3,73.65L206.2,73.65L206.2,78.91L207.1,78.91L207.1,88.34L208,88.34L208,81.59L208.9,81.59L208.9,82.66L209.8,82.66L209.8,74.19L210.7,74.19L210.7,76.9L211.6,76.9L211.6,70.76L212.5,70.76L212.5,70.7L213.4,70.7L213.4,78.53L214.3,78.53L214.3,77.21L215.2,77.21L215.2,75.98L216.1,75.98L216.1,82.08L217,82.08L217,60.39L217.9,60.39L217.9,76.22L218.8,76.22L218.8,86.29L219.7,86.29L219.7,88.28L220.6,88.28L220.6,82.96L221.5,82.96L221.5,88.98L222.4,88.98L222.4,97.05L223.3,97.05L223.3,100.98L224.2,100.98L224.2,96.8L225.1,96.8L225.1,99.09L226,99.09L226,97.17L226.9,97.17L226.9,99.52L227.8,99.52L227.8,99.65L228.7,99.65L228.7,110.82L229.6,110.82L229.6,109.17L230.5,109.17L230.5,113.02L231.4,113.02L231.4,114.28L232.3,114.28L232.3,112.12L233.2,112.12L233.2,117.91L234.1,117.91L234.1,115.9L235,115.9L235,117.06L235.9,117.06L235.9,115.69L236.8,115.69L236.8,119.97L237.7,119.97L237.7,118.05L238.6,118.05L238.6,118.16L239.5,118.16L239.5,119.02L240.4,119.02L240.4,119.13L241.3,119.13L241.3,119.3L242.2,119.3L242.2,120.67L243.1,120.67L243.1,119.32L244,119.32L244,120.87L244.9,120.87L244.9,117.56L245.8,117.56L245.8,118.72L246.7,118.72L246.7,121.3L247.6,121.3L247.6,121.3L248.5,121.3L248.5,121.3L249.4,121.3L249.4,121.3L250.3,121.3L250.3,121.3L251.2,121.3L251.2,121.3L252,121.3L252,121.3" fill="none" stroke="#1c1cc4" stroke-width="1.3" stroke-linejoin="miter" opacity="1.0"/>
<rect x="81.2" y="117" width="1" height="4.3" fill="#ea0006" stroke="none" stroke-width="0"/>
<rect x="132.5" y="117" width="1" height="4.3" fill="#ea0006" stroke="none" stroke-width="0"/>
<path d="M32.5,242.3L32.5,231.84L33.6,231.84L33.6,231.51L34.7,231.51L34.7,234.22L35.8,234.22L35.8,235.8L36.9,235.8L36.9,233.05L38,233.05L38,239.56L39.1,239.56L39.1,238.29L40.2,238.29L40.2,238.76L41.3,238.76L41.3,237.73L42.4,237.73L42.4,239.39L43.5,239.39L43.5,238.98L44.6,238.98L44.6,237.79L45.7,237.79L45.7,236.92L46.8,236.92L46.8,238.91L47.9,238.91L47.9,236.76L49,236.76L49,237.57L50.1,237.57L50.1,236.27L51.2,236.27L51.2,235.59L52.3,235.59L52.3,237.1L53.4,237.1L53.4,234.67L54.5,234.67L54.5,235.67L55.6,235.67L55.6,231.43L56.7,231.43L56.7,233.58L57.8,233.58L57.8,235.43L58.9,235.43L58.9,234.06L60,234.06L60,225.51L61.1,225.51L61.1,229.72L62.2,229.72L62.2,224.75L63.3,224.75L63.3,231.02L64.4,231.02L64.4,228.64L65.5,228.64L65.5,226.72L66.6,226.72L66.6,227.13L67.7,227.13L67.7,231.85L68.8,231.85L68.8,232.52L69.9,232.52L69.9,228.56L71,228.56L71,227.01L72.1,227.01L72.1,229.34L73.2,229.34L73.2,227.55L74.3,227.55L74.3,223.47L75.4,223.47L75.4,228.89L76.5,228.89L76.5,228.49L77.6,228.49L77.6,224.48L78.7,224.48L78.7,229.29L79.8,229.29L79.8,220.11L80.9,220.11L80.9,226.14L82,226.14L82,228.76L83.1,228.76L83.1,221L84.2,221L84.2,229.27L85.3,229.27L85.3,226.02L86.4,226.02L86.4,229.72L87.5,229.72L87.5,227.31L88.6,227.31L88.6,224.9L89.7,224.9L89.7,225L90.8,225L90.8,224.4L91.9,224.4L91.9,227.65L93,227.65L93,218.52L94.1,218.52L94.1,224.28L95.2,224.28L95.2,220.37L96.3,220.37L96.3,221.04L97.4,221.04L97.4,213.33L98.5,213.33L98.5,221.03L99.6,221.03L99.6,215.67L100.7,215.67L100.7,222.18L101.8,222.18L101.8,214.19L102.9,214.19L102.9,216.61L104,216.61L104,212.3L105.1,212.3L105.1,220.89L106.2,220.89L106.2,219.89L107.3,219.89L107.3,216.37L108.4,216.37L108.4,217.95L109.5,217.95L109.5,216.76L110.6,216.76L110.6,218.27L111.7,218.27L111.7,222.65L112.8,222.65L112.8,222.83L113.9,222.83L113.9,217.54L115,217.54L115,211.22L116.1,211.22L116.1,210.24L117.2,210.24L117.2,211.69L118.3,211.69L118.3,216.89L119.4,216.89L119.4,214.01L120.5,214.01L120.5,212.3L121.6,212.3L121.6,222.07L122.7,222.07L122.7,226.95L123.8,226.95L123.8,218.88L124.9,218.88L124.9,218.51L126,218.51L126,221.36L127.1,221.36L127.1,221.54L128.2,221.54L128.2,225.3L129.3,225.3L129.3,227.3L130.4,227.3L130.4,222.94L131.5,222.94L131.5,229.94L132.6,229.94L132.6,225.24L133.7,225.24L133.7,231.69L134.8,231.69L134.8,228.5L135.9,228.5L135.9,231.88L137,231.88L137,232.21L138.1,232.21L138.1,230.07L139.2,230.07L139.2,230.8L140.3,230.8L140.3,237.19L141.4,237.19L141.4,236.13L142.5,236.13L142.5,234.06L143.6,234.06L143.6,232.64L144.7,232.64L144.7,238.07L145.8,238.07L145.8,233.42L146.9,233.42L146.9,236.99L148,236.99L148,237.4L149.1,237.4L149.1,239.39L150.2,239.39L150.2,237.84L151.3,237.84L151.3,240.19L152.4,240.19L152.4,240.09L153.5,240.09L153.5,240.34L154.6,240.34L154.6,237.6L155.7,237.6L155.7,239.67L156.8,239.67L156.8,240.29L157.9,240.29L157.9,239.27L159,239.27L159,238.1L160.1,238.1L160.1,239.83L161.2,239.83L161.2,239.62L162.3,239.62L162.3,238.3L163.4,238.3L163.4,240.35L164.5,240.35L164.5,240.73L165.6,240.73L165.6,242.3L166.7,242.3L166.7,242.3L167.8,242.3L167.8,242.3L168,242.3L168,242.3Z" fill="#ea0006" stroke="#ea0006" stroke-width="0.4" stroke-linejoin="miter" opacity="1.0"/>
<path d="M112,242.3L112,240.62L112.9,240.62L112.9,242.02L113.8,242.02L113.8,239.25L114.7,239.25L114.7,240.61L115.6,240.61L115.6,240.79L116.5,240.79L116.5,240.73L117.4,240.73L117.4,237.81L118.3,237.81L118.3,239.63L119.2,239.63L119.2,236.73L120.1,236.73L120.1,236.88L121,236.88L121,233.99L121.9,233.99L121.9,232.43L122.8,232.43L122.8,228.81L123.7,228.81L123.7,226.27L124.6,226.27L124.6,228.21L125.5,228.21L125.5,220.68L126.4,220.68L126.4,219.08L127.3,219.08L127.3,215.73L128.2,215.73L128.2,211.62L129.1,211.62L129.1,219.16L130,219.16L130,204.74L130.9,204.74L130.9,215.3L131.8,215.3L131.8,209.21L132.7,209.21L132.7,202.38L133.6,202.38L133.6,196.33L134.5,196.33L134.5,195.4L135.4,195.4L135.4,193.61L136.3,193.61L136.3,189.47L137.2,189.47L137.2,195.62L138.1,195.62L138.1,186.51L139,186.51L139,168.58L139.9,168.58L139.9,198.52L140.8,198.52L140.8,186.17L141.7,186.17L141.7,187.08L142.6,187.08L142.6,193.38L143.5,193.38L143.5,190.79L144.4,190.79L144.4,190.22L145.3,190.22L145.3,190.38L146.2,190.38L146.2,187.57L147.1,187.57L147.1,191.81L148,191.81L148,179.74L148.9,179.74L148.9,187.29L149.8,187.29L149.8,192.56L150.7,192.56L150.7,176.49L151.6,176.49L151.6,194.32L152.5,194.32L152.5,196.35L153.4,196.35L153.4,205.93L154.3,205.93L154.3,192.82L155.2,192.82L155.2,199.09L156.1,199.09L156.1,195.96L157,195.96L157,186.74L157.9,186.74L157.9,186.49L158.8,186.49L158.8,193.92L159.7,193.92L159.7,187.3L160.6,187.3L160.6,188.62L161.5,188.62L161.5,192.34L162.4,192.34L162.4,197.29L163.3,197.29L163.3,191.64L164.2,191.64L164.2,204.13L165.1,204.13L165.1,196.5L166,196.5L166,199.38L166.9,199.38L166.9,206.17L167.8,206.17L167.8,206.22L168.7,206.22L168.7,191.07L169.6,191.07L169.6,212.31L170.5,212.31L170.5,203.3L171.4,203.3L171.4,205.47L172.3,205.47L172.3,202.39L173.2,202.39L173.2,203.37L174.1,203.37L174.1,201.25L175,201.25L175,203.53L175.9,203.53L175.9,208.04L176.8,208.04L176.8,214.81L177.7,214.81L177.7,211.96L178.6,211.96L178.6,210.47L179.5,210.47L179.5,212.76L180.4,212.76L180.4,213.03L181.3,213.03L181.3,219.4L182.2,219.4L182.2,224.38L183.1,224.38L183.1,224.65L184,224.65L184,224.28L184.9,224.28L184.9,223.95L185.8,223.95L185.8,225.31L186.7,225.31L186.7,227.2L187.6,227.2L187.6,232.64L188.5,232.64L188.5,232.18L189.4,232.18L189.4,231.56L190.3,231.56L190.3,233.15L191.2,233.15L191.2,233.51L192.1,233.51L192.1,237.82L193,237.82L193,236.06L193.9,236.06L193.9,241.25L194.8,241.25L194.8,238.85L195.7,238.85L195.7,238.8L196.6,238.8L196.6,239.93L197.5,239.93L197.5,239.31L198.4,239.31L198.4,241.37L199.3,241.37L199.3,242.03L200.2,242.03L200.2,242.3L201.1,242.3L201.1,242.3L202,242.3L202,242.3L202.9,242.3L202.9,242.3L203.8,242.3L203.8,242.3L204.7,242.3L204.7,242.3L205,242.3L205,242.3" fill="none" stroke="#26ee26" stroke-width="1.3" stroke-linejoin="miter" opacity="1.0"/>
<path d="M33.5,242.3L33.5,242.3L34.4,242.3L34.4,240.77L35.3,240.77L35.3,241.6L36.2,241.6L36.2,239.82L37.1,239.82L37.1,240.07L38,240.07L38,241.89L38.9,241.89L38.9,241.18L39.8,241.18L39.8,241.98L40.7,241.98L40.7,242.17L41.6,242.17L41.6,238.97L42.5,238.97L42.5,241.16L43.4,241.16L43.4,240.11L44.3,240.11L44.3,240.47L45.2,240.47L45.2,240.74L46.1,240.74L46.1,241.88L47,241.88L47,241.85L47.9,241.85L47.9,240.34L48.8,240.34L48.8,239.63L49.7,239.63L49.7,242.3L50.6,242.3L50.6,241.77L51.5,241.77L51.5,241.01L52.4,241.01L52.4,239.72L53.3,239.72L53.3,240.24L54.2,240.24L54.2,239.96L55.1,239.96L55.1,240.55L56,240.55L56,241.79L56.9,241.79L56.9,240.94L57.8,240.94L57.8,239.49L58.7,239.49L58.7,240.62L59.6,240.62L59.6,242.07L60.5,242.07L60.5,239.34L61.4,239.34L61.4,240.33L62.3,240.33L62.3,240.05L63.2,240.05L63.2,238.76L64.1,238.76L64.1,241.37L65,241.37L65,241.5L65.9,241.5L65.9,242.3L66.8,242.3L66.8,240.65L67.7,240.65L67.7,240.17L68.6,240.17L68.6,240.82L69.5,240.82L69.5,240.79L70.4,240.79L70.4,239.83L71.3,239.83L71.3,240.36L72.2,240.36L72.2,240.37L73.1,240.37L73.1,240.87L74,240.87L74,240.85L74.9,240.85L74.9,239.72L75.8,239.72L75.8,240.9L76.7,240.9L76.7,241.24L77.6,241.24L77.6,241.37L78.5,241.37L78.5,240.93L79.4,240.93L79.4,240.6L80.3,240.6L80.3,240.11L81.2,240.11L81.2,240.33L82.1,240.33L82.1,240.65L83,240.65L83,241.9L83.9,241.9L83.9,239.24L84.8,239.24L84.8,240.87L85.7,240.87L85.7,239.75L86.6,239.75L86.6,238L87.5,238L87.5,238.91L88.4,238.91L88.4,240L89.3,240L89.3,238L90.2,238L90.2,239.08L91.1,239.08L91.1,239.28L92,239.28L92,237.09L92.9,237.09L92.9,237.72L93.8,237.72L93.8,234.54L94.7,234.54L94.7,239.78L95.6,239.78L95.6,238.36L96.5,238.36L96.5,237.75L97.4,237.75L97.4,236.56L98.3,236.56L98.3,238.49L99.2,238.49L99.2,236.08L100.1,236.08L100.1,237.83L101,237.83L101,238.9L101.9,238.9L101.9,238.09L102.8,238.09L102.8,237.88L103.7,237.88L103.7,237.93L104.6,237.93L104.6,238.49L105.5,238.49L105.5,237.95L106.4,237.95L106.4,236.34L107.3,236.34L107.3,236.41L108.2,236.41L108.2,235.03L109.1,235.03L109.1,238.6L110,238.6L110,238.85L110.9,238.85L110.9,234.59L111.8,234.59L111.8,236.86L112.7,236.86L112.7,236.79L113.6,236.79L113.6,238.44L114.5,238.44L114.5,236.71L115.4,236.71L115.4,236.91L116.3,236.91L116.3,236.68L117.2,236.68L117.2,234.76L118.1,234.76L118.1,237.35L119,237.35L119,235.68L119.9,235.68L119.9,237.82L120.8,237.82L120.8,232.73L121.7,232.73L121.7,233.86L122.6,233.86L122.6,226.54L123.5,226.54L123.5,230.82L124.4,230.82L124.4,221.68L125.3,221.68L125.3,225.48L126.2,225.48L126.2,225.52L127.1,225.52L127.1,218.01L128,218.01L128,215.61L128.9,215.61L128.9,217.31L129.8,217.31L129.8,216.33L130.7,216.33L130.7,218.69L131.6,218.69L131.6,208.74L132.5,208.74L132.5,203.85L133.4,203.85L133.4,212.17L134.3,212.17L134.3,200.51L135.2,200.51L135.2,190.69L136.1,190.69L136.1,203.55L137,203.55L137,187.03L137.9,187.03L137.9,182.73L138.8,182.73L138.8,185.7L139.7,185.7L139.7,166.3L140.6,166.3L140.6,185.65L141.5,185.65L141.5,164.6L142.4,164.6L142.4,167.53L143.3,167.53L143.3,180.58L144.2,180.58L144.2,182.33L145.1,182.33L145.1,189.77L146,189.77L146,160.44L146.9,160.44L146.9,160.38L147.8,160.38L147.8,180.47L148.7,180.47L148.7,179.94L149.6,179.94L149.6,184.54L150.5,184.54L150.5,176.55L151.4,176.55L151.4,193.67L152.3,193.67L152.3,179.02L153.2,179.02L153.2,196.62L154.1,196.62L154.1,178.86L155,178.86L155,188.31L155.9,188.31L155.9,176.49L156.8,176.49L156.8,181.92L157.7,181.92L157.7,189.65L158.6,189.65L158.6,189.88L159.5,189.88L159.5,191.39L160.4,191.39L160.4,172.1L161.3,172.1L161.3,174.43L162.2,174.43L162.2,183.79L163.1,183.79L163.1,187.55L164,187.55L164,174.43L164.9,174.43L164.9,176.71L165.8,176.71L165.8,179.18L166.7,179.18L166.7,174.08L167.6,174.08L167.6,169.8L168.5,169.8L168.5,175.07L169.4,175.07L169.4,170.98L170.3,170.98L170.3,175.74L171.2,175.74L171.2,174.27L172.1,174.27L172.1,179.8L173,179.8L173,170.25L173.9,170.25L173.9,174.28L174.8,174.28L174.8,177.12L175.7,177.12L175.7,173.31L176.6,173.31L176.6,176.32L177.5,176.32L177.5,183.11L178.4,183.11L178.4,186.11L179.3,186.11L179.3,187.72L180.2,187.72L180.2,203.4L181.1,203.4L181.1,198.47L182,198.47L182,199.71L182.9,199.71L182.9,208.45L183.8,208.45L183.8,205.56L184.7,205.56L184.7,212.01L185.6,212.01L185.6,216.64L186.5,216.64L186.5,222.69L187.4,222.69L187.4,223.63L188.3,223.63L188.3,221.35L189.2,221.35L189.2,219.29L190.1,219.29L190.1,226.77L191,226.77L191,232.31L191.9,232.31L191.9,227.01L192.8,227.01L192.8,231.11L193.7,231.11L193.7,231.13L194.6,231.13L194.6,235.08L195.5,235.08L195.5,233.6L196.4,233.6L196.4,235.33L197.3,235.33L197.3,238.5L198.2,238.5L198.2,238.12L199.1,238.12L199.1,238.4L200,238.4L200,240.44L200.9,240.44L200.9,238.98L201.8,238.98L201.8,241.52L202.7,241.52L202.7,241.15L203.6,241.15L203.6,242.3L204.5,242.3L204.5,242.3L205.4,242.3L205.4,242.3L206.3,242.3L206.3,242.3L207.2,242.3L207.2,242.3L208,242.3L208,242.3" fill="none" stroke="#1c1cc4" stroke-width="1.3" stroke-linejoin="miter" opacity="1.0"/>
<line x1="33" y1="134.2" x2="33" y2="242.3" stroke="#1c1cc4" stroke-width="1.6" />
<path d="M32.5,362.6L32.5,336.18L33.6,336.18L33.6,340.74L34.7,340.74L34.7,340.87L35.8,340.87L35.8,344.2L36.9,344.2L36.9,344.21L38,344.21L38,347.07L39.1,347.07L39.1,348.71L40.2,348.71L40.2,337.77L41.3,337.77L41.3,351.62L42.4,351.62L42.4,346.17L43.5,346.17L43.5,352.2L44.6,352.2L44.6,351.11L45.7,351.11L45.7,356.11L46.8,356.11L46.8,356.02L47.9,356.02L47.9,349.37L49,349.37L49,351.93L50.1,351.93L50.1,357.22L51.2,357.22L51.2,349.52L52.3,349.52L52.3,355.52L53.4,355.52L53.4,355.1L54.5,355.1L54.5,354.77L55.6,354.77L55.6,344.79L56.7,344.79L56.7,348.56L57.8,348.56L57.8,345.03L58.9,345.03L58.9,350.61L60,350.61L60,342.7L61.1,342.7L61.1,346.79L62.2,346.79L62.2,347.17L63.3,347.17L63.3,344.86L64.4,344.86L64.4,345.63L65.5,345.63L65.5,342.76L66.6,342.76L66.6,341.28L67.7,341.28L67.7,339.58L68.8,339.58L68.8,341.82L69.9,341.82L69.9,339.14L71,339.14L71,334.29L72.1,334.29L72.1,339.66L73.2,339.66L73.2,337.24L74.3,337.24L74.3,341.27L75.4,341.27L75.4,332.6L76.5,332.6L76.5,337.92L77.6,337.92L77.6,338.58L78.7,338.58L78.7,337.44L79.8,337.44L79.8,333.6L80.9,333.6L80.9,340.64L82,340.64L82,335.41L83.1,335.41L83.1,342L84.2,342L84.2,329.63L85.3,329.63L85.3,337.24L86.4,337.24L86.4,342.38L87.5,342.38L87.5,339.82L88.6,339.82L88.6,339.35L89.7,339.35L89.7,340.46L90.8,340.46L90.8,345.46L91.9,345.46L91.9,344.76L93,344.76L93,334.66L94.1,334.66L94.1,340.21L95.2,340.21L95.2,333.75L96.3,333.75L96.3,337.6L97.4,337.6L97.4,339.13L98.5,339.13L98.5,330.49L99.6,330.49L99.6,344.69L100.7,344.69L100.7,342.26L101.8,342.26L101.8,341.46L102.9,341.46L102.9,351.75L104,351.75L104,347.36L105.1,347.36L105.1,354.61L106.2,354.61L106.2,356.2L107.3,356.2L107.3,355.14L108.4,355.14L108.4,353.42L109.5,353.42L109.5,355.99L110.6,355.99L110.6,355.8L111.7,355.8L111.7,357.66L112.8,357.66L112.8,359.27L113.9,359.27L113.9,354.87L115,354.87L115,358.3L116.1,358.3L116.1,353.06L117.2,353.06L117.2,352.87L118.3,352.87L118.3,353.24L119.4,353.24L119.4,358.51L120.5,358.51L120.5,355.94L121.6,355.94L121.6,359.6L122.7,359.6L122.7,356.42L123.8,356.42L123.8,356.21L124.9,356.21L124.9,357.5L126,357.5L126,357.63L127.1,357.63L127.1,358.05L128.2,358.05L128.2,357.4L129.3,357.4L129.3,356.74L130.4,356.74L130.4,356.04L131.5,356.04L131.5,359.64L132.6,359.64L132.6,359.25L133.7,359.25L133.7,357.16L134.8,357.16L134.8,359.16L135.9,359.16L135.9,357.29L137,357.29L137,359.55L138.1,359.55L138.1,359.41L139.2,359.41L139.2,361.55L140.3,361.55L140.3,360.75L141.4,360.75L141.4,358.93L142.5,358.93L142.5,357.57L143.6,357.57L143.6,362.6L144.7,362.6L144.7,362.6L145.8,362.6L145.8,362.6L146.9,362.6L146.9,362.6L147,362.6L147,362.6Z" fill="#ea0006" stroke="#ea0006" stroke-width="0.4" stroke-linejoin="miter" opacity="1.0"/>
<path d="M33.5,362.6L33.5,362.6L34.4,362.6L34.4,330.45L35.3,330.45L35.3,332.25L36.2,332.25L36.2,334.44L37.1,334.44L37.1,332.02L38,332.02L38,333.01L38.9,333.01L38.9,329.96L39.8,329.96L39.8,329.52L40.7,329.52L40.7,336.87L41.6,336.87L41.6,339.84L42.5,339.84L42.5,342.02L43.4,342.02L43.4,336.13L44.3,336.13L44.3,339.28L45.2,339.28L45.2,345.52L46.1,345.52L46.1,348.07L47,348.07L47,344.56L47.9,344.56L47.9,338.74L48.8,338.74L48.8,340.41L49.7,340.41L49.7,340.11L50.6,340.11L50.6,335.55L51.5,335.55L51.5,337.17L52.4,337.17L52.4,341.82L53.3,341.82L53.3,338.01L54.2,338.01L54.2,340.93L55.1,340.93L55.1,339.61L56,339.61L56,341.67L56.9,341.67L56.9,341.82L57.8,341.82L57.8,343.24L58.7,343.24L58.7,337.12L59.6,337.12L59.6,338.64L60.5,338.64L60.5,343.93L61.4,343.93L61.4,336.27L62.3,336.27L62.3,328.95L63.2,328.95L63.2,342.39L64.1,342.39L64.1,340.5L65,340.5L65,345.32L65.9,345.32L65.9,338.8L66.8,338.8L66.8,337.4L67.7,337.4L67.7,333.43L68.6,333.43L68.6,340.91L69.5,340.91L69.5,335.41L70.4,335.41L70.4,340.92L71.3,340.92L71.3,339.28L72.2,339.28L72.2,338.66L73.1,338.66L73.1,344.68L74,344.68L74,341.5L74.9,341.5L74.9,344.14L75.8,344.14L75.8,335.31L76.7,335.31L76.7,338.42L77.6,338.42L77.6,337.61L78.5,337.61L78.5,338.39L79.4,338.39L79.4,342.33L80.3,342.33L80.3,338.16L81.2,338.16L81.2,339.23L82.1,339.23L82.1,343.16L83,343.16L83,339.7L83.9,339.7L83.9,333.55L84.8,333.55L84.8,334.14L85.7,334.14L85.7,340.75L86.6,340.75L86.6,339.93L87.5,339.93L87.5,346.65L88.4,346.65L88.4,340.61L89.3,340.61L89.3,344.42L90.2,344.42L90.2,343.13L91.1,343.13L91.1,337.24L92,337.24L92,344.89L92.9,344.89L92.9,334.18L93.8,334.18L93.8,340.23L94.7,340.23L94.7,335.83L95.6,335.83L95.6,336.85L96.5,336.85L96.5,342.46L97.4,342.46L97.4,341.72L98.3,341.72L98.3,343.25L99.2,343.25L99.2,339.39L100.1,339.39L100.1,340.96L101,340.96L101,341.26L101.9,341.26L101.9,333.81L102.8,333.81L102.8,333.86L103.7,333.86L103.7,332.43L104.6,332.43L104.6,337.24L105.5,337.24L105.5,339.43L106.4,339.43L106.4,333.55L107.3,333.55L107.3,336.48L108.2,336.48L108.2,336.42L109.1,336.42L109.1,330.59L110,330.59L110,335L110.9,335L110.9,339.61L111.8,339.61L111.8,342.3L112.7,342.3L112.7,338.09L113.6,338.09L113.6,338.56L114.5,338.56L114.5,335.69L115.4,335.69L115.4,332.19L116.3,332.19L116.3,336.18L117.2,336.18L117.2,337.4L118.1,337.4L118.1,342.79L119,342.79L119,339.75L119.9,339.75L119.9,333.94L120.8,333.94L120.8,338.05L121.7,338.05L121.7,342.69L122.6,342.69L122.6,336.82L123.5,336.82L123.5,342.99L124.4,342.99L124.4,340.37L125.3,340.37L125.3,340.86L126.2,340.86L126.2,333.83L127.1,333.83L127.1,339.41L128,339.41L128,332.81L128.9,332.81L128.9,328.76L129.8,328.76L129.8,332.45L130.7,332.45L130.7,331.86L131.6,331.86L131.6,333.58L132.5,333.58L132.5,316.97L133.4,316.97L133.4,324.34L134.3,324.34L134.3,319.35L135.2,319.35L135.2,319.91L136.1,319.91L136.1,320.82L137,320.82L137,316.34L137.9,316.34L137.9,324.92L138.8,324.92L138.8,306.61L139.7,306.61L139.7,319.57L140.6,319.57L140.6,315.98L141.5,315.98L141.5,307.6L142.4,307.6L142.4,317.73L143.3,317.73L143.3,309.49L144.2,309.49L144.2,327.55L145.1,327.55L145.1,315.44L146,315.44L146,309.26L146.9,309.26L146.9,319.07L147.8,319.07L147.8,319.34L148.7,319.34L148.7,308.85L149.6,308.85L149.6,317.14L150.5,317.14L150.5,324.52L151.4,324.52L151.4,305.9L152.3,305.9L152.3,307.49L153.2,307.49L153.2,323.57L154.1,323.57L154.1,313.86L155,313.86L155,320.14L155.9,320.14L155.9,327.56L156.8,327.56L156.8,338.2L157.7,338.2L157.7,325.75L158.6,325.75L158.6,320.22L159.5,320.22L159.5,329.54L160.4,329.54L160.4,329.78L161.3,329.78L161.3,327.74L162.2,327.74L162.2,327.71L163.1,327.71L163.1,324.12L164,324.12L164,320.34L164.9,320.34L164.9,332.96L165.8,332.96L165.8,328.65L166.7,328.65L166.7,327.27L167.6,327.27L167.6,333.66L168.5,333.66L168.5,330.33L169.4,330.33L169.4,334.75L170.3,334.75L170.3,333.37L171.2,333.37L171.2,338.76L172.1,338.76L172.1,341.74L173,341.74L173,336.75L173.9,336.75L173.9,339.37L174.8,339.37L174.8,345.73L175.7,345.73L175.7,345.83L176.6,345.83L176.6,353.16L177.5,353.16L177.5,351.25L178.4,351.25L178.4,352.46L179.3,352.46L179.3,347.11L180.2,347.11L180.2,354.13L181.1,354.13L181.1,353.86L182,353.86L182,353.04L182.9,353.04L182.9,356.04L183.8,356.04L183.8,356.66L184.7,356.66L184.7,357.09L185.6,357.09L185.6,356.81L186.5,356.81L186.5,358.1L187.4,358.1L187.4,359.78L188.3,359.78L188.3,361.3L189.2,361.3L189.2,362.6L190.1,362.6L190.1,362.6L191,362.6L191,362.6L191.9,362.6L191.9,362.6L192,362.6L192,362.6" fill="none" stroke="#26ee26" stroke-width="1.3" stroke-linejoin="miter" opacity="1.0"/>
<path d="M33.5,362.6L33.5,362.6L34.4,362.6L34.4,333.41L35.3,333.41L35.3,330.95L36.2,330.95L36.2,315L37.1,315L37.1,322.27L38,322.27L38,321.13L38.9,321.13L38.9,324.04L39.8,324.04L39.8,315.5L40.7,315.5L40.7,324.38L41.6,324.38L41.6,321.24L42.5,321.24L42.5,325.15L43.4,325.15L43.4,332.24L44.3,332.24L44.3,335.33L45.2,335.33L45.2,337.75L46.1,337.75L46.1,346.93L47,346.93L47,351.28L47.9,351.28L47.9,349.66L48.8,349.66L48.8,347.25L49.7,347.25L49.7,352.85L50.6,352.85L50.6,351.16L51.5,351.16L51.5,348.14L52.4,348.14L52.4,349.26L53.3,349.26L53.3,354.46L54.2,354.46L54.2,348.82L55.1,348.82L55.1,350.4L56,350.4L56,348.9L56.9,348.9L56.9,350.69L57.8,350.69L57.8,347.47L58.7,347.47L58.7,346.66L59.6,346.66L59.6,350.19L60.5,350.19L60.5,352.72L61.4,352.72L61.4,352.82L62.3,352.82L62.3,347.25L63.2,347.25L63.2,351.81L64.1,351.81L64.1,353.4L65,353.4L65,350.7L65.9,350.7L65.9,353.9L66.8,353.9L66.8,353.41L67.7,353.41L67.7,354.99L68.6,354.99L68.6,352.45L69.5,352.45L69.5,353.27L70.4,353.27L70.4,350.9L71.3,350.9L71.3,353.96L72.2,353.96L72.2,354.99L73.1,354.99L73.1,356.21L74,356.21L74,353.54L74.9,353.54L74.9,355.99L75.8,355.99L75.8,354.97L76.7,354.97L76.7,355.95L77.6,355.95L77.6,352.34L78.5,352.34L78.5,356.78L79.4,356.78L79.4,357.79L80.3,357.79L80.3,355.11L81.2,355.11L81.2,355.75L82.1,355.75L82.1,356.02L83,356.02L83,354.06L83.9,354.06L83.9,354.35L84.8,354.35L84.8,354.62L85.7,354.62L85.7,352.56L86.6,352.56L86.6,356.68L87.5,356.68L87.5,353.92L88.4,353.92L88.4,356.71L89.3,356.71L89.3,355.07L90.2,355.07L90.2,360.37L91.1,360.37L91.1,356.98L92,356.98L92,355.17L92.9,355.17L92.9,354.61L93.8,354.61L93.8,356.34L94.7,356.34L94.7,358L95.6,358L95.6,354.77L96.5,354.77L96.5,353.85L97.4,353.85L97.4,359.42L98.3,359.42L98.3,356.45L99.2,356.45L99.2,355.89L100.1,355.89L100.1,356.12L101,356.12L101,359.09L101.9,359.09L101.9,356.42L102.8,356.42L102.8,356.79L103.7,356.79L103.7,357.4L104.6,357.4L104.6,355.42L105.5,355.42L105.5,355.06L106.4,355.06L106.4,356.94L107.3,356.94L107.3,353.52L108.2,353.52L108.2,357.53L109.1,357.53L109.1,352.16L110,352.16L110,357.16L110.9,357.16L110.9,352.65L111.8,352.65L111.8,356.75L112.7,356.75L112.7,353.64L113.6,353.64L113.6,352.82L114.5,352.82L114.5,355.31L115.4,355.31L115.4,352.55L116.3,352.55L116.3,355.38L117.2,355.38L117.2,354.41L118.1,354.41L118.1,352.79L119,352.79L119,352.51L119.9,352.51L119.9,351.51L120.8,351.51L120.8,350.86L121.7,350.86L121.7,346.29L122.6,346.29L122.6,349.67L123.5,349.67L123.5,350.85L124.4,350.85L124.4,350.78L125.3,350.78L125.3,350.46L126.2,350.46L126.2,349.43L127.1,349.43L127.1,350.87L128,350.87L128,345.02L128.9,345.02L128.9,347.56L129.8,347.56L129.8,349.7L130.7,349.7L130.7,348.79L131.6,348.79L131.6,344.07L132.5,344.07L132.5,344.52L133.4,344.52L133.4,346.35L134.3,346.35L134.3,346.42L135.2,346.42L135.2,345.68L136.1,345.68L136.1,341.3L137,341.3L137,342.66L137.9,342.66L137.9,345.81L138.8,345.81L138.8,338.19L139.7,338.19L139.7,346.41L140.6,346.41L140.6,339.1L141.5,339.1L141.5,329.87L142.4,329.87L142.4,330.97L143.3,330.97L143.3,340.67L144.2,340.67L144.2,333.64L145.1,333.64L145.1,332.67L146,332.67L146,323.04L146.9,323.04L146.9,323.67L147.8,323.67L147.8,317.07L148.7,317.07L148.7,318.33L149.6,318.33L149.6,318.21L150.5,318.21L150.5,325.9L151.4,325.9L151.4,322.7L152.3,322.7L152.3,322.21L153.2,322.21L153.2,326.29L154.1,326.29L154.1,310.87L155,310.87L155,314.05L155.9,314.05L155.9,324.49L156.8,324.49L156.8,307.4L157.7,307.4L157.7,316.01L158.6,316.01L158.6,305.65L159.5,305.65L159.5,313.15L160.4,313.15L160.4,315.64L161.3,315.64L161.3,315.63L162.2,315.63L162.2,317.95L163.1,317.95L163.1,312.17L164,312.17L164,317.76L164.9,317.76L164.9,303.45L165.8,303.45L165.8,311.02L166.7,311.02L166.7,293.9L167.6,293.9L167.6,307.34L168.5,307.34L168.5,320.28L169.4,320.28L169.4,325.54L170.3,325.54L170.3,309.27L171.2,309.27L171.2,328.23L172.1,328.23L172.1,324.32L173,324.32L173,318.6L173.9,318.6L173.9,319.72L174.8,319.72L174.8,325.32L175.7,325.32L175.7,331.48L176.6,331.48L176.6,323.04L177.5,323.04L177.5,328.02L178.4,328.02L178.4,333L179.3,333L179.3,336.39L180.2,336.39L180.2,336.47L181.1,336.47L181.1,339.04L182,339.04L182,345.78L182.9,345.78L182.9,348.65L183.8,348.65L183.8,349.79L184.7,349.79L184.7,358.12L185.6,358.12L185.6,353.33L186.5,353.33L186.5,358.43L187.4,358.43L187.4,357.27L188.3,357.27L188.3,356.58L189.2,356.58L189.2,358.17L190.1,358.17L190.1,356.65L191,356.65L191,356.11L191.9,356.11L191.9,359.29L192.8,359.29L192.8,359.09L193.7,359.09L193.7,360.4L194.6,360.4L194.6,360.91L195.5,360.91L195.5,362.6L196.4,362.6L196.4,362.6L197.3,362.6L197.3,362.6L198,362.6L198,362.6" fill="none" stroke="#1c1cc4" stroke-width="1.3" stroke-linejoin="miter" opacity="1.0"/>
<line x1="33" y1="255.5" x2="33" y2="362.6" stroke="#1c1cc4" stroke-width="1.6" />
<path d="M293,121.3L293,121.3L294.7,121.3L294.7,114.1L296.4,114.1L296.4,106.9L298.1,106.9L298.1,114.1L299.8,114.1L299.8,106.9L301.5,106.9L301.5,121.3L303,121.3L303,121.3" fill="none" stroke="#1c1cc4" stroke-width="1.0"/>
<path d="M344,121.3L344,121.3L345.7,121.3L345.7,121.3L347.4,121.3L347.4,121.3L349.1,121.3L349.1,121.3L350.8,121.3L350.8,114.1L352.5,114.1L352.5,121.3L354.2,121.3L354.2,121.3L355.9,121.3L355.9,121.3L357.6,121.3L357.6,121.3L359.3,121.3L359.3,121.3L361,121.3L361,121.3L362.7,121.3L362.7,121.3L364.4,121.3L364.4,121.3L366.1,121.3L366.1,121.3L367.8,121.3L367.8,121.3L369.5,121.3L369.5,121.3L371.2,121.3L371.2,114.1L372.9,114.1L372.9,121.3L374.6,121.3L374.6,121.3L376.3,121.3L376.3,121.3L378,121.3L378,121.3L379.7,121.3L379.7,121.3L381.4,121.3L381.4,121.3L383.1,121.3L383.1,121.3L384.8,121.3L384.8,121.3L386.5,121.3L386.5,121.3L388.2,121.3L388.2,121.3L389.9,121.3L389.9,121.3L391.6,121.3L391.6,121.3L393.3,121.3L393.3,121.3L395,121.3L395,121.3L396.7,121.3L396.7,121.3L398.4,121.3L398.4,121.3L400,121.3L400,121.3" fill="none" stroke="#1c1cc4" stroke-width="1.0"/>
<path d="M344,121.3L344,114.1L345.7,114.1L345.7,121.3L347.4,121.3L347.4,106.9L349.1,106.9L349.1,121.3L350.8,121.3L350.8,121.3L352.5,121.3L352.5,121.3L354.2,121.3L354.2,121.3L355.9,121.3L355.9,106.9L357.6,106.9L357.6,121.3L359.3,121.3L359.3,106.9L361,106.9L361,121.3L362.7,121.3L362.7,121.3L364.4,121.3L364.4,121.3L366.1,121.3L366.1,121.3L367.8,121.3L367.8,106.9L369.5,106.9L369.5,121.3L371.2,121.3L371.2,121.3L372.9,121.3L372.9,121.3L374.6,121.3L374.6,121.3L376.3,121.3L376.3,106.9L378,106.9L378,121.3L379.7,121.3L379.7,106.9L381.4,106.9L381.4,121.3L383.1,121.3L383.1,121.3L384.8,121.3L384.8,106.9L386.5,106.9L386.5,121.3L388.2,121.3L388.2,106.9L389.9,106.9L389.9,121.3L391.6,121.3L391.6,121.3L393.3,121.3L393.3,121.3L395,121.3L395,121.3L396.7,121.3L396.7,106.9L398.4,106.9L398.4,121.3L400.1,121.3L400.1,121.3L401,121.3L401,121.3" fill="none" stroke="#26ee26" stroke-width="1.0"/>
<path d="M296,121.3L296,121.3L297.7,121.3L297.7,106.9L299.4,106.9L299.4,106.9L300.5,106.9L300.5,121.3" fill="none" stroke="#26ee26" stroke-width="1.0"/>
<path d="M400,121.3L400,106.9L401.7,106.9L401.7,106.9L403.4,106.9L403.4,106.9L405.1,106.9L405.1,99.7L406.8,99.7L406.8,92.5L408.5,92.5L408.5,99.7L410.2,99.7L410.2,114.1L411.9,114.1L411.9,92.5L413.6,92.5L413.6,106.9L415.3,106.9L415.3,99.7L417,99.7L417,85.3L418.7,85.3L418.7,92.5L420.4,92.5L420.4,92.5L422.1,92.5L422.1,92.5L423.8,92.5L423.8,106.9L425.5,106.9L425.5,85.3L427.2,85.3L427.2,106.9L428.9,106.9L428.9,99.7L430.6,99.7L430.6,92.5L432.3,92.5L432.3,99.7L434,99.7L434,106.9L435.7,106.9L435.7,92.5L437.4,92.5L437.4,85.3L439.1,85.3L439.1,106.9L440.8,106.9L440.8,99.7L442.5,99.7L442.5,85.3L444.2,85.3L444.2,78.1L445.9,78.1L445.9,85.3L447.6,85.3L447.6,92.5L449.3,92.5L449.3,92.5L451,92.5L451,92.5L452.7,92.5L452.7,78.1L454.4,78.1L454.4,106.9L456.1,106.9L456.1,92.5L457.8,92.5L457.8,92.5L459.5,92.5L459.5,92.5L461.2,92.5L461.2,106.9L462.9,106.9L462.9,99.7L464.6,99.7L464.6,99.7L466.3,99.7L466.3,114.1L468,114.1L468,106.9L469.7,106.9L469.7,106.9L471.4,106.9L471.4,114.1L473.1,114.1L473.1,114.1L474.8,114.1L474.8,106.9L476.5,106.9L476.5,121.3L478,121.3L478,121.3" fill="none" stroke="#26ee26" stroke-width="1.0"/>
<path d="M300.5,121.3L300.5,106.9L302.2,106.9L302.2,106.9L303.9,106.9L303.9,106.9L305.6,106.9L305.6,106.9L307.3,106.9L307.3,92.5L309,92.5L309,106.9L310.7,106.9L310.7,106.9L312.4,106.9L312.4,106.9L314.1,106.9L314.1,106.9L315.8,106.9L315.8,106.9L316.5,106.9L316.5,121.3Z" fill="#ea0006" stroke="#ea0006" stroke-width="0.3"/>
<path d="M333.5,121.3L333.5,106.9L335.2,106.9L335.2,121.3L336.9,121.3L336.9,121.3L338.6,121.3L338.6,106.9L340.3,106.9L340.3,121.3L342,121.3L342,106.9L343.7,106.9L343.7,121.3L345.4,121.3L345.4,121.3L347.1,121.3L347.1,106.9L348.8,106.9L348.8,121.3L350.5,121.3L350.5,106.9L352.2,106.9L352.2,121.3L353.9,121.3L353.9,121.3L355.6,121.3L355.6,121.3L357.3,121.3L357.3,121.3L359,121.3L359,106.9L360.7,106.9L360.7,121.3L362.4,121.3L362.4,106.9L364.1,106.9L364.1,121.3L365.8,121.3L365.8,121.3L367.5,121.3L367.5,106.9L369.2,106.9L369.2,121.3L370.9,121.3L370.9,106.9L372.6,106.9L372.6,121.3L374.3,121.3L374.3,106.9L376,106.9L376,121.3L377.7,121.3L377.7,121.3L379.4,121.3L379.4,106.9L381.1,106.9L381.1,121.3L382.8,121.3L382.8,106.9L384.5,106.9L384.5,121.3L386.2,121.3L386.2,121.3L387.9,121.3L387.9,106.9L389.6,106.9L389.6,121.3L391.3,121.3L391.3,106.9L393,106.9L393,121.3L394.7,121.3L394.7,106.9L396.4,106.9L396.4,121.3L398.1,121.3L398.1,121.3L399.8,121.3L399.8,106.9L400,106.9L400,121.3Z" fill="#ea0006" stroke="#ea0006" stroke-width="0.3"/>
<path d="M399,121.3L399,121.3L400.5,121.3L400.5,99.7L402,99.7L402,99.7L403.5,99.7L403.5,99.7L405,99.7L405,106.9L406.5,106.9L406.5,99.7L408,99.7L408,106.9L409.5,106.9L409.5,114.1L411,114.1L411,99.7L412.5,99.7L412.5,99.7L414,99.7L414,92.5L415.5,92.5L415.5,99.7L417,99.7L417,99.7L418.5,99.7L418.5,99.7L420,99.7L420,106.9L421.5,106.9L421.5,99.7L423,99.7L423,106.9L424.5,106.9L424.5,92.5L426,92.5L426,92.5L427.5,92.5L427.5,92.5L429,92.5L429,92.5L430.5,92.5L430.5,85.3L432,85.3L432,92.5L433.5,92.5L433.5,92.5L435,92.5L435,92.5L436.5,92.5L436.5,92.5L438,92.5L438,92.5L439.5,92.5L439.5,85.3L441,85.3L441,78.1L442.5,78.1L442.5,92.5L444,92.5L444,85.3L445.5,85.3L445.5,85.3L447,85.3L447,63.7L448.5,63.7L448.5,92.5L450,92.5L450,99.7L451.5,99.7L451.5,92.5L453,92.5L453,92.5L454.5,92.5L454.5,78.1L456,78.1L456,99.7L457.5,99.7L457.5,92.5L459,92.5L459,92.5L460.5,92.5L460.5,85.3L462,85.3L462,85.3L463.5,85.3L463.5,99.7L465,99.7L465,85.3L466.5,85.3L466.5,85.3L468,85.3L468,85.3L469.5,85.3L469.5,92.5L471,92.5L471,85.3L472.5,85.3L472.5,78.1L474,78.1L474,92.5L475.5,92.5L475.5,92.5L477,92.5L477,92.5L478.5,92.5L478.5,99.7L480,99.7L480,99.7L481.5,99.7L481.5,92.5L483,92.5L483,92.5L484.5,92.5L484.5,106.9L486,106.9L486,106.9L487.5,106.9L487.5,106.9L489,106.9L489,106.9L490.5,106.9L490.5,99.7L492,99.7L492,106.9L493.5,106.9L493.5,114.1L495,114.1L495,121.3L496,121.3L496,121.3Z" fill="#ea0006" stroke="#ea0006" stroke-width="0.3"/>
<path d="M398,121.3L398,121.3L399.5,121.3L399.5,99.7L401,99.7L401,114.1L402.5,114.1L402.5,106.9L404,106.9L404,106.9L405.5,106.9L405.5,106.9L407,106.9L407,106.9L408.5,106.9L408.5,106.9L410,106.9L410,106.9L411.5,106.9L411.5,114.1L413,114.1L413,106.9L414.5,106.9L414.5,106.9L416,106.9L416,99.7L417.5,99.7L417.5,99.7L419,99.7L419,92.5L420.5,92.5L420.5,106.9L422,106.9L422,92.5L423.5,92.5L423.5,92.5L425,92.5L425,92.5L426.5,92.5L426.5,85.3L428,85.3L428,78.1L429.5,78.1L429.5,78.1L431,78.1L431,85.3L432.5,85.3L432.5,78.1L434,78.1L434,78.1L435.5,78.1L435.5,78.1L437,78.1L437,70.9L438.5,70.9L438.5,78.1L440,78.1L440,70.9L441.5,70.9L441.5,85.3L443,85.3L443,85.3L444.5,85.3L444.5,70.9L446,70.9L446,70.9L447.5,70.9L447.5,78.1L449,78.1L449,78.1L450.5,78.1L450.5,85.3L452,85.3L452,78.1L453.5,78.1L453.5,78.1L455,78.1L455,70.9L456.5,70.9L456.5,78.1L458,78.1L458,85.3L459.5,85.3L459.5,78.1L461,78.1L461,63.7L462.5,63.7L462.5,78.1L464,78.1L464,78.1L465.5,78.1L465.5,63.7L467,63.7L467,78.1L468.5,78.1L468.5,78.1L470,78.1L470,78.1L471.5,78.1L471.5,78.1L473,78.1L473,70.9L474.5,70.9L474.5,85.3L476,85.3L476,78.1L477.5,78.1L477.5,70.9L479,70.9L479,70.9L480.5,70.9L480.5,78.1L482,78.1L482,78.1L483.5,78.1L483.5,78.1L485,78.1L485,92.5L486.5,92.5L486.5,92.5L488,92.5L488,92.5L489.5,92.5L489.5,99.7L491,99.7L491,99.7L492.5,99.7L492.5,114.1L494,114.1L494,114.1L495.5,114.1L495.5,114.1L497,114.1L497,121.3L498.5,121.3L498.5,114.1L500,114.1L500,114.1L501.5,114.1L501.5,121.3L503,121.3L503,121.3" fill="none" stroke="#1c1cc4" stroke-width="1.0"/>
<path d="M284,242.3L284,199.1L285.5,199.1L285.5,242.3L287,242.3L287,242.3L288.5,242.3L288.5,242.3L290,242.3L290,242.3L291.5,242.3L291.5,242.3L293,242.3L293,242.3L294.5,242.3L294.5,242.3L296,242.3L296,227.9L297.5,227.9L297.5,242.3L299,242.3L299,242.3L300.5,242.3L300.5,242.3L302,242.3L302,242.3L303.5,242.3L303.5,242.3L305,242.3L305,227.9L306.5,227.9L306.5,242.3L308,242.3L308,242.3L309.5,242.3L309.5,242.3L310,242.3L310,242.3" fill="none" stroke="#1c1cc4" stroke-width="1.0"/>
<path d="M306,242.3L306,227.9L307.7,227.9L307.7,220.7L309.4,220.7L309.4,227.9L311.1,227.9L311.1,220.7L312.8,220.7L312.8,227.9L314.5,227.9L314.5,220.7L316.2,220.7L316.2,220.7L317.9,220.7L317.9,220.7L319.6,220.7L319.6,227.9L321.3,227.9L321.3,220.7L323,220.7L323,220.7L324.7,220.7L324.7,220.7L326.4,220.7L326.4,213.5L328.1,213.5L328.1,220.7L329.8,220.7L329.8,220.7L331.5,220.7L331.5,220.7L333.2,220.7L333.2,227.9L334.9,227.9L334.9,220.7L336.6,220.7L336.6,213.5L338.3,213.5L338.3,220.7L340,220.7L340,227.9L341.7,227.9L341.7,220.7L343.4,220.7L343.4,220.7L345.1,220.7L345.1,213.5L346.8,213.5L346.8,184.7L348.5,184.7L348.5,213.5L350.2,213.5L350.2,213.5L351.9,213.5L351.9,213.5L353.6,213.5L353.6,213.5L355.3,213.5L355.3,220.7L357,220.7L357,213.5L358.7,213.5L358.7,213.5L360.4,213.5L360.4,206.3L362.1,206.3L362.1,213.5L363.8,213.5L363.8,220.7L365.5,220.7L365.5,213.5L367.2,213.5L367.2,213.5L368.9,213.5L368.9,206.3L370.6,206.3L370.6,213.5L372.3,213.5L372.3,206.3L374,206.3L374,220.7L375.7,220.7L375.7,220.7L377.4,220.7L377.4,213.5L379.1,213.5L379.1,213.5L380.8,213.5L380.8,213.5L382.5,213.5L382.5,213.5L384.2,213.5L384.2,213.5L385.9,213.5L385.9,220.7L387.6,220.7L387.6,213.5L389.3,213.5L389.3,213.5L391,213.5L391,213.5L392.7,213.5L392.7,220.7L394.4,220.7L394.4,213.5L396.1,213.5L396.1,213.5L397.8,213.5L397.8,213.5L399.5,213.5L399.5,213.5L401.2,213.5L401.2,206.3L402.9,206.3L402.9,220.7L404.6,220.7L404.6,213.5L406.3,213.5L406.3,206.3L408,206.3L408,213.5L409.7,213.5L409.7,220.7L411.4,220.7L411.4,213.5L413.1,213.5L413.1,206.3L414.8,206.3L414.8,220.7L416.5,220.7L416.5,213.5L418.2,213.5L418.2,213.5L419.9,213.5L419.9,220.7L421.6,220.7L421.6,213.5L423.3,213.5L423.3,206.3L425,206.3L425,213.5L426.7,213.5L426.7,206.3L428.4,206.3L428.4,213.5L430.1,213.5L430.1,213.5L431.8,213.5L431.8,206.3L433.5,206.3L433.5,213.5L435.2,213.5L435.2,220.7L436.9,220.7L436.9,206.3L438.6,206.3L438.6,199.1L440.3,199.1L440.3,199.1L442,199.1L442,191.9L443.7,191.9L443.7,213.5L445.4,213.5L445.4,206.3L447.1,206.3L447.1,213.5L448.8,213.5L448.8,213.5L450.5,213.5L450.5,213.5L452.2,213.5L452.2,206.3L453.9,206.3L453.9,213.5L455.6,213.5L455.6,220.7L457.3,220.7L457.3,227.9L459,227.9L459,235.1L460.7,235.1L460.7,235.1L462.4,235.1L462.4,227.9L464.1,227.9L464.1,242.3L465.8,242.3L465.8,242.3L467.5,242.3L467.5,242.3L469,242.3L469,242.3" fill="none" stroke="#26ee26" stroke-width="1.0"/>
<path d="M318,242.3L318,227.9L319.15,227.9L319.15,220.7L320.3,220.7L320.3,227.9L321.45,227.9L321.45,227.9L322.6,227.9L322.6,220.7L323.75,220.7L323.75,235.1L324.9,235.1L324.9,220.7L326.05,220.7L326.05,242.3L327.2,242.3L327.2,235.1L328.35,235.1L328.35,235.1L329.5,235.1L329.5,220.7L330.65,220.7L330.65,220.7L331.8,220.7L331.8,227.9L332.95,227.9L332.95,220.7L334.1,220.7L334.1,235.1L335.25,235.1L335.25,220.7L336.4,220.7L336.4,227.9L337.55,227.9L337.55,227.9L338.7,227.9L338.7,227.9L339.85,227.9L339.85,220.7L341,220.7L341,227.9L342.15,227.9L342.15,235.1L343.3,235.1L343.3,213.5L344.45,213.5L344.45,220.7L345.6,220.7L345.6,220.7L346.75,220.7L346.75,220.7L347.9,220.7L347.9,213.5L349.05,213.5L349.05,206.3L350.2,206.3L350.2,227.9L351.35,227.9L351.35,220.7L352.5,220.7L352.5,213.5L353.65,213.5L353.65,206.3L354.8,206.3L354.8,227.9L355.95,227.9L355.95,220.7L357.1,220.7L357.1,206.3L358.25,206.3L358.25,213.5L359.4,213.5L359.4,213.5L360.55,213.5L360.55,227.9L361.7,227.9L361.7,213.5L362.85,213.5L362.85,220.7L364,220.7L364,206.3L365.15,206.3L365.15,213.5L366.3,213.5L366.3,220.7L367.45,220.7L367.45,220.7L368.6,220.7L368.6,199.1L369.75,199.1L369.75,220.7L370.9,220.7L370.9,213.5L372.05,213.5L372.05,213.5L373.2,213.5L373.2,220.7L374.35,220.7L374.35,220.7L375.5,220.7L375.5,206.3L376.65,206.3L376.65,213.5L377.8,213.5L377.8,213.5L378.95,213.5L378.95,213.5L380.1,213.5L380.1,213.5L381.25,213.5L381.25,213.5L382.4,213.5L382.4,213.5L383.55,213.5L383.55,206.3L384.7,206.3L384.7,220.7L385.85,220.7L385.85,213.5L387,213.5L387,220.7L388.15,220.7L388.15,213.5L389.3,213.5L389.3,220.7L390.45,220.7L390.45,213.5L391.6,213.5L391.6,199.1L392.75,199.1L392.75,206.3L393.9,206.3L393.9,206.3L395.05,206.3L395.05,213.5L396.2,213.5L396.2,220.7L397.35,220.7L397.35,199.1L398.5,199.1L398.5,199.1L399.65,199.1L399.65,199.1L400.8,199.1L400.8,213.5L401.95,213.5L401.95,206.3L403.1,206.3L403.1,184.7L404.25,184.7L404.25,199.1L405.4,199.1L405.4,199.1L406.55,199.1L406.55,199.1L407.7,199.1L407.7,191.9L408.85,191.9L408.85,191.9L410,191.9L410,163.1L411.15,163.1L411.15,170.3L412.3,170.3L412.3,184.7L413.45,184.7L413.45,177.5L414.6,177.5L414.6,206.3L415.75,206.3L415.75,170.3L416.9,170.3L416.9,163.1L418.05,163.1L418.05,163.1L419.2,163.1L419.2,163.1L420.35,163.1L420.35,177.5L421.5,177.5L421.5,184.7L422.65,184.7L422.65,163.1L423.8,163.1L423.8,170.3L424.95,170.3L424.95,155.9L426.1,155.9L426.1,155.9L427.25,155.9L427.25,170.3L428.4,170.3L428.4,163.1L429.55,163.1L429.55,170.3L430.7,170.3L430.7,163.1L431.85,163.1L431.85,184.7L433,184.7L433,170.3L434.15,170.3L434.15,170.3L435.3,170.3L435.3,155.9L436.45,155.9L436.45,184.7L437.6,184.7L437.6,177.5L438.75,177.5L438.75,163.1L439.9,163.1L439.9,170.3L441.05,170.3L441.05,170.3L442.2,170.3L442.2,184.7L443.35,184.7L443.35,184.7L444.5,184.7L444.5,184.7L445.65,184.7L445.65,170.3L446.8,170.3L446.8,177.5L447.95,177.5L447.95,177.5L449.1,177.5L449.1,213.5L450.25,213.5L450.25,206.3L451.4,206.3L451.4,199.1L452.55,199.1L452.55,213.5L453.7,213.5L453.7,199.1L454.85,199.1L454.85,199.1L456,199.1L456,213.5L457.15,213.5L457.15,213.5L458.3,213.5L458.3,220.7L459.45,220.7L459.45,227.9L460.6,227.9L460.6,227.9L461.75,227.9L461.75,220.7L462.9,220.7L462.9,227.9L464.05,227.9L464.05,220.7L465.2,220.7L465.2,227.9L466.35,227.9L466.35,227.9L467.5,227.9L467.5,242.3L468.65,242.3L468.65,242.3L469.8,242.3L469.8,242.3L470,242.3L470,242.3" fill="none" stroke="#1c1cc4" stroke-width="1.0"/>
<path d="M314.5,242.3L314.5,227.9L316.2,227.9L316.2,227.9L317.9,227.9L317.9,213.5L319.6,213.5L319.6,227.9L321.3,227.9L321.3,227.9L323,227.9L323,227.9L324.7,227.9L324.7,227.9L326.4,227.9L326.4,227.9L328.1,227.9L328.1,227.9L329.8,227.9L329.8,227.9L331.5,227.9L331.5,227.9L333.2,227.9L333.2,227.9L334.9,227.9L334.9,199.1L336.6,199.1L336.6,213.5L338.3,213.5L338.3,213.5L340,213.5L340,213.5L341.7,213.5L341.7,199.1L343.4,199.1L343.4,213.5L345.1,213.5L345.1,213.5L346.8,213.5L346.8,199.1L348.5,199.1L348.5,213.5L350.2,213.5L350.2,199.1L351.9,199.1L351.9,184.7L353.6,184.7L353.6,170.3L355.3,170.3L355.3,184.7L357,184.7L357,184.7L358.7,184.7L358.7,170.3L360.4,170.3L360.4,199.1L362.1,199.1L362.1,184.7L363.8,184.7L363.8,170.3L365.5,170.3L365.5,184.7L367.2,184.7L367.2,170.3L368.9,170.3L368.9,184.7L370.6,184.7L370.6,213.5L372.3,213.5L372.3,213.5L374,213.5L374,213.5L375.7,213.5L375.7,213.5L377.4,213.5L377.4,170.3L379.1,170.3L379.1,213.5L380.8,213.5L380.8,213.5L382.5,213.5L382.5,199.1L384.2,199.1L384.2,213.5L385.9,213.5L385.9,213.5L387.6,213.5L387.6,213.5L389.3,213.5L389.3,227.9L391,227.9L391,213.5L392.7,213.5L392.7,227.9L394.4,227.9L394.4,227.9L396.1,227.9L396.1,227.9L397.8,227.9L397.8,227.9L399.5,227.9L399.5,227.9L401.2,227.9L401.2,227.9L402.9,227.9L402.9,227.9L404.6,227.9L404.6,213.5L406.3,213.5L406.3,227.9L408,227.9L408,227.9L409.7,227.9L409.7,227.9L411.4,227.9L411.4,227.9L413.1,227.9L413.1,227.9L414.8,227.9L414.8,227.9L416.5,227.9L416.5,227.9L418.2,227.9L418.2,227.9L419.9,227.9L419.9,227.9L421.6,227.9L421.6,242.3L422,242.3L422,242.3Z" fill="#ea0006" stroke="#ea0006" stroke-width="0.3"/>
<path d="M305,362.6L305,362.6L306.2,362.6L306.2,362.6L307.4,362.6L307.4,362.6L308.6,362.6L308.6,362.6L309.8,362.6L309.8,348.2L311,348.2L311,333.8L312.2,333.8L312.2,333.8L313.4,333.8L313.4,333.8L314.6,333.8L314.6,326.6L315.8,326.6L315.8,348.2L317,348.2L317,348.2L318.2,348.2L318.2,326.6L319.4,326.6L319.4,355.4L320.6,355.4L320.6,326.6L321.8,326.6L321.8,319.4L323,319.4L323,319.4L324.2,319.4L324.2,312.2L325.4,312.2L325.4,319.4L326.6,319.4L326.6,312.2L327.8,312.2L327.8,326.6L329,326.6L329,319.4L330.2,319.4L330.2,326.6L331.4,326.6L331.4,319.4L332.6,319.4L332.6,319.4L333.8,319.4L333.8,319.4L335,319.4L335,283.4L336.2,283.4L336.2,297.8L337.4,297.8L337.4,348.2L338.6,348.2L338.6,312.2L339.8,312.2L339.8,305L341,305L341,312.2L342.2,312.2L342.2,290.6L343.4,290.6L343.4,333.8L344.6,333.8L344.6,297.8L345.8,297.8L345.8,305L347,305L347,326.6L348.2,326.6L348.2,312.2L349.4,312.2L349.4,312.2L350.6,312.2L350.6,319.4L351.8,319.4L351.8,319.4L353,319.4L353,319.4L354.2,319.4L354.2,333.8L355.4,333.8L355.4,305L356.6,305L356.6,326.6L357.8,326.6L357.8,326.6L359,326.6L359,319.4L360.2,319.4L360.2,297.8L361.4,297.8L361.4,319.4L362.6,319.4L362.6,319.4L363.8,319.4L363.8,348.2L365,348.2L365,341L366.2,341L366.2,319.4L367.4,319.4L367.4,341L368.6,341L368.6,319.4L369.8,319.4L369.8,333.8L371,333.8L371,326.6L372.2,326.6L372.2,348.2L373.4,348.2L373.4,326.6L374.6,326.6L374.6,326.6L375.8,326.6L375.8,326.6L377,326.6L377,319.4L378.2,319.4L378.2,326.6L379.4,326.6L379.4,333.8L380.6,333.8L380.6,333.8L381.8,333.8L381.8,319.4L383,319.4L383,326.6L384.2,326.6L384.2,319.4L385.4,319.4L385.4,326.6L386.6,326.6L386.6,341L387.8,341L387.8,319.4L389,319.4L389,326.6L390.2,326.6L390.2,348.2L391.4,348.2L391.4,341L392.6,341L392.6,341L393.8,341L393.8,326.6L395,326.6L395,348.2L396.2,348.2L396.2,333.8L397.4,333.8L397.4,326.6L398.6,326.6L398.6,333.8L399.8,333.8L399.8,341L401,341L401,319.4L402.2,319.4L402.2,333.8L403.4,333.8L403.4,333.8L404.6,333.8L404.6,355.4L405.8,355.4L405.8,333.8L407,333.8L407,319.4L408.2,319.4L408.2,348.2L409.4,348.2L409.4,348.2L410.6,348.2L410.6,333.8L411.8,333.8L411.8,341L413,341L413,341L414.2,341L414.2,341L415.4,341L415.4,341L416.6,341L416.6,341L417.8,341L417.8,341L419,341L419,348.2L420.2,348.2L420.2,341L421.4,341L421.4,362.6L422.6,362.6L422.6,355.4L423.8,355.4L423.8,348.2L425,348.2L425,355.4L426.2,355.4L426.2,362.6L427.4,362.6L427.4,362.6L428.6,362.6L428.6,362.6L429.8,362.6L429.8,362.6L430,362.6L430,362.6" fill="none" stroke="#26ee26" stroke-width="1.0"/>
<path d="M340,362.6L340,333.8L341.15,333.8L341.15,333.8L342.3,333.8L342.3,326.6L343.45,326.6L343.45,341L344.6,341L344.6,319.4L345.75,319.4L345.75,348.2L346.9,348.2L346.9,341L348.05,341L348.05,333.8L349.2,333.8L349.2,341L350.35,341L350.35,333.8L351.5,333.8L351.5,333.8L352.65,333.8L352.65,326.6L353.8,326.6L353.8,319.4L354.95,319.4L354.95,319.4L356.1,319.4L356.1,319.4L357.25,319.4L357.25,333.8L358.4,333.8L358.4,319.4L359.55,319.4L359.55,312.2L360.7,312.2L360.7,333.8L361.85,333.8L361.85,312.2L363,312.2L363,305L364.15,305L364.15,326.6L365.3,326.6L365.3,305L366.45,305L366.45,326.6L367.6,326.6L367.6,319.4L368.75,319.4L368.75,319.4L369.9,319.4L369.9,305L371.05,305L371.05,319.4L372.2,319.4L372.2,312.2L373.35,312.2L373.35,305L374.5,305L374.5,305L375.65,305L375.65,312.2L376.8,312.2L376.8,312.2L377.95,312.2L377.95,333.8L379.1,333.8L379.1,312.2L380.25,312.2L380.25,305L381.4,305L381.4,312.2L382.55,312.2L382.55,305L383.7,305L383.7,305L384.85,305L384.85,297.8L386,297.8L386,297.8L387.15,297.8L387.15,283.4L388.3,283.4L388.3,297.8L389.45,297.8L389.45,297.8L390.6,297.8L390.6,305L391.75,305L391.75,290.6L392.9,290.6L392.9,319.4L394.05,319.4L394.05,290.6L395.2,290.6L395.2,319.4L396.35,319.4L396.35,319.4L397.5,319.4L397.5,326.6L398.65,326.6L398.65,312.2L399.8,312.2L399.8,326.6L400.95,326.6L400.95,326.6L402.1,326.6L402.1,333.8L403.25,333.8L403.25,326.6L404.4,326.6L404.4,333.8L405.55,333.8L405.55,348.2L406.7,348.2L406.7,326.6L407.85,326.6L407.85,333.8L409,333.8L409,341L410.15,341L410.15,333.8L411.3,333.8L411.3,319.4L412.45,319.4L412.45,333.8L413.6,333.8L413.6,348.2L414.75,348.2L414.75,341L415.9,341L415.9,333.8L417.05,333.8L417.05,333.8L418.2,333.8L418.2,333.8L419.35,333.8L419.35,341L420.5,341L420.5,341L421.65,341L421.65,333.8L422.8,333.8L422.8,333.8L423.95,333.8L423.95,341L425.1,341L425.1,348.2L426.25,348.2L426.25,341L427.4,341L427.4,333.8L428.55,333.8L428.55,348.2L429.7,348.2L429.7,362.6L430.85,362.6L430.85,341L432,341L432,362.6L433.15,362.6L433.15,341L434.3,341L434.3,341L435.45,341L435.45,355.4L436.6,355.4L436.6,348.2L437.75,348.2L437.75,348.2L438.9,348.2L438.9,362.6L440,362.6L440,362.6" fill="none" stroke="#1c1cc4" stroke-width="1.0"/>
<path d="M283.8,362.6L283.8,348.2L285.5,348.2L285.5,348.2L287.2,348.2L287.2,348.2L288.9,348.2L288.9,348.2L290.6,348.2L290.6,348.2L292.3,348.2L292.3,333.8L294,333.8L294,348.2L295.7,348.2L295.7,348.2L297.4,348.2L297.4,348.2L299.1,348.2L299.1,348.2L300.8,348.2L300.8,348.2L302.5,348.2L302.5,333.8L304.2,333.8L304.2,333.8L305.9,333.8L305.9,319.4L307.6,319.4L307.6,333.8L309.3,333.8L309.3,333.8L311,333.8L311,333.8L312.7,333.8L312.7,319.4L314.4,319.4L314.4,319.4L316.1,319.4L316.1,319.4L317.8,319.4L317.8,319.4L319.5,319.4L319.5,305L321.2,305L321.2,305L322.9,305L322.9,319.4L324.6,319.4L324.6,305L326.3,305L326.3,276.2L328,276.2L328,319.4L329.7,319.4L329.7,305L331.4,305L331.4,305L333.1,305L333.1,290.6L334.8,290.6L334.8,319.4L336.5,319.4L336.5,305L338.2,305L338.2,305L339.9,305L339.9,305L341.6,305L341.6,305L343.3,305L343.3,319.4L345,319.4L345,319.4L346.7,319.4L346.7,333.8L348.4,333.8L348.4,333.8L350.1,333.8L350.1,333.8L351.8,333.8L351.8,348.2L353.5,348.2L353.5,333.8L355.2,333.8L355.2,348.2L356.9,348.2L356.9,348.2L358.6,348.2L358.6,348.2L360.3,348.2L360.3,348.2L362,348.2L362,348.2L363.7,348.2L363.7,348.2L365.4,348.2L365.4,348.2L367.1,348.2L367.1,348.2L368.8,348.2L368.8,348.2L370.5,348.2L370.5,348.2L372.2,348.2L372.2,348.2L373.9,348.2L373.9,348.2L375.6,348.2L375.6,362.6L376,362.6L376,362.6Z" fill="#ea0006" stroke="#ea0006" stroke-width="0.3"/>
<path d="M376,362.6L376,362.6L377.7,362.6L377.7,348.2L379.4,348.2L379.4,348.2L381.1,348.2L381.1,348.2L382.8,348.2L382.8,348.2L384.5,348.2L384.5,362.6L386.2,362.6L386.2,348.2L387.9,348.2L387.9,348.2L389.6,348.2L389.6,348.2L391.3,348.2L391.3,348.2L393,348.2L393,348.2L394,348.2L394,362.6Z" fill="#ea0006" stroke="#ea0006" stroke-width="0.3"/>
<path d="M505,362.6L505,362.6L506.7,362.6L506.7,362.6L508.4,362.6L508.4,348.2L510.1,348.2L510.1,362.6L511.8,362.6L511.8,362.6L512,362.6L512,362.6Z" fill="#ea0006" stroke="#ea0006" stroke-width="0.3"/>
<path d="M440,362.6L440,362.6L441.7,362.6L441.7,362.6L443.4,362.6L443.4,362.6L445.1,362.6L445.1,362.6L446.8,362.6L446.8,362.6L448.5,362.6L448.5,362.6L450.2,362.6L450.2,362.6L451.9,362.6L451.9,348.2L453.6,348.2L453.6,362.6L455.3,362.6L455.3,362.6L457,362.6L457,362.6L458.7,362.6L458.7,362.6L460.4,362.6L460.4,362.6L462.1,362.6L462.1,348.2L463.8,348.2L463.8,348.2L465.5,348.2L465.5,362.6L467.2,362.6L467.2,348.2L468.9,348.2L468.9,362.6L470.6,362.6L470.6,362.6L472.3,362.6L472.3,362.6L474,362.6L474,362.6L475.7,362.6L475.7,348.2L477.4,348.2L477.4,362.6L479.1,362.6L479.1,362.6L480,362.6L480,362.6" fill="none" stroke="#1c1cc4" stroke-width="1.0"/>
<line x1="283.4" y1="121.3" x2="514.3" y2="121.3" stroke="#a02838" stroke-width="1.2" />
<line x1="283.4" y1="242.3" x2="514.8" y2="242.3" stroke="#a02838" stroke-width="1.2" />
<line x1="283.4" y1="362.6" x2="515.6" y2="362.6" stroke="#a02838" stroke-width="1.2" />
<line x1="283.8" y1="255.5" x2="283.8" y2="332.6" stroke="#4a3aa0" stroke-width="1.4" />
<line x1="283.8" y1="332.6" x2="283.8" y2="362.6" stroke="#8a2050" stroke-width="1.4" />
<line x1="283.8" y1="199.3" x2="283.8" y2="242.3" stroke="#1c1cc4" stroke-width="1.4" />
<line x1="283.8" y1="114.1" x2="283.8" y2="121.3" stroke="#1c1cc4" stroke-width="1.4" />
<line x1="515.3" y1="304.4" x2="515.3" y2="362.6" stroke="#1c1cc4" stroke-width="1.1" />
<line x1="113" y1="27.5" x2="262.3" y2="27.5" stroke="#888" stroke-width="1" />
<line x1="113" y1="24.2" x2="113" y2="30.8" stroke="#777" stroke-width="1" />
<line x1="262" y1="24.2" x2="262" y2="30.8" stroke="#666" stroke-width="1" />
<text x="187.65" y="31.7" font-size="3.4" text-anchor="middle" fill="#555" >M1</text>
<line x1="107.3" y1="152.7" x2="262.3" y2="152.7" stroke="#888" stroke-width="1" />
<line x1="107.3" y1="149.4" x2="107.3" y2="156" stroke="#777" stroke-width="1" />
<line x1="262" y1="149.4" x2="262" y2="156" stroke="#666" stroke-width="1" />
<text x="184.8" y="156.9" font-size="3.4" text-anchor="middle" fill="#555" >M1</text>
<line x1="106.5" y1="273.5" x2="262.3" y2="273.5" stroke="#888" stroke-width="1" />
<line x1="106.5" y1="270.2" x2="106.5" y2="276.8" stroke="#777" stroke-width="1" />
<line x1="262" y1="270.2" x2="262" y2="276.8" stroke="#666" stroke-width="1" />
<text x="184.4" y="277.7" font-size="3.4" text-anchor="middle" fill="#555" >M1</text>
<line x1="411" y1="27.5" x2="514.3" y2="27.5" stroke="#888" stroke-width="1" />
<line x1="411" y1="24.2" x2="411" y2="30.8" stroke="#777" stroke-width="1" />
<line x1="514" y1="24.2" x2="514" y2="30.8" stroke="#666" stroke-width="1" />
<text x="462.65" y="31.7" font-size="3.4" text-anchor="middle" fill="#555" >M1</text>
<line x1="409.2" y1="142.7" x2="514.8" y2="142.7" stroke="#888" stroke-width="1" />
<line x1="409.2" y1="139.4" x2="409.2" y2="146" stroke="#777" stroke-width="1" />
<line x1="514.5" y1="139.4" x2="514.5" y2="146" stroke="#666" stroke-width="1" />
<text x="462" y="146.9" font-size="3.4" text-anchor="middle" fill="#555" >M1</text>
<line x1="367.3" y1="261.6" x2="515.6" y2="261.6" stroke="#888" stroke-width="1" />
<line x1="367.3" y1="258.3" x2="367.3" y2="264.9" stroke="#777" stroke-width="1" />
<line x1="515.3" y1="258.3" x2="515.3" y2="264.9" stroke="#666" stroke-width="1" />
<text x="441.45" y="265.8" font-size="3.4" text-anchor="middle" fill="#555" >M1</text>
<text x="230" y="45.4" font-size="9" text-anchor="start" fill="#111" stroke="#111" stroke-width="0.3" textLength="18" lengthAdjust="spacingAndGlyphs" >GPIIb</text>
<text x="482.5" y="45.6" font-size="9" text-anchor="start" fill="#111" stroke="#111" stroke-width="0.3" textLength="18.5" lengthAdjust="spacingAndGlyphs" >GPIIb</text>
<text x="232.1" y="175.3" font-size="9" text-anchor="start" fill="#111" stroke="#111" stroke-width="0.3" textLength="17" lengthAdjust="spacingAndGlyphs" >GPIX</text>
<text x="483.7" y="175.6" font-size="9" text-anchor="start" fill="#111" stroke="#111" stroke-width="0.3" textLength="18" lengthAdjust="spacingAndGlyphs" >GPIX</text>
<text x="230" y="292.7" font-size="9" text-anchor="start" fill="#111" stroke="#111" stroke-width="0.3" textLength="20.8" lengthAdjust="spacingAndGlyphs" >GPIbα</text>
<text x="482.5" y="293.2" font-size="9" text-anchor="start" fill="#111" stroke="#111" stroke-width="0.3" textLength="20.5" lengthAdjust="spacingAndGlyphs" >GPIbα</text>
<text x="23" y="49.35" font-size="9.4" text-anchor="middle" fill="#1a1a1a" stroke="#1a1a1a" stroke-width="0.2" textLength="37.3" lengthAdjust="spacingAndGlyphs" transform="rotate(-90 23 49.35)" >Cell Counts</text>
<text x="23" y="178.35" font-size="9.4" text-anchor="middle" fill="#1a1a1a" stroke="#1a1a1a" stroke-width="0.2" textLength="37.3" lengthAdjust="spacingAndGlyphs" transform="rotate(-90 23 178.35)" >Cell Counts</text>
<text x="23" y="299.45" font-size="9.4" text-anchor="middle" fill="#1a1a1a" stroke="#1a1a1a" stroke-width="0.2" textLength="37.3" lengthAdjust="spacingAndGlyphs" transform="rotate(-90 23 299.45)" >Cell Counts</text>
<line x1="34.4" y1="375" x2="107.4" y2="375" stroke="#555" stroke-width="1.1" />
<line x1="170.3" y1="375" x2="249.7" y2="375" stroke="#555" stroke-width="1.1" />
<path d="M248.7,372L260.2,375L248.7,378Z" fill="#111"/>
<text x="113.2" y="377.3" font-size="9" text-anchor="start" fill="#1a1a1a" stroke="#1a1a1a" stroke-width="0.2" textLength="56.2" lengthAdjust="spacingAndGlyphs" >Log Fluorescence</text>
<line x1="288.3" y1="375" x2="360.6" y2="375" stroke="#555" stroke-width="1.1" />
<line x1="425.2" y1="375" x2="505.6" y2="375" stroke="#555" stroke-width="1.1" />
<path d="M504.6,372L516.2,375L504.6,378Z" fill="#111"/>
<text x="366.3" y="377.3" font-size="9" text-anchor="start" fill="#1a1a1a" stroke="#1a1a1a" stroke-width="0.2" textLength="56.7" lengthAdjust="spacingAndGlyphs" >Log Fluorescence</text>
<rect x="120.8" y="388" width="12.2" height="12.2" fill="#1414d4" stroke="none" stroke-width="0"/>
<rect x="373" y="388" width="13" height="12.2" fill="#1414d4" stroke="none" stroke-width="0"/>
<rect x="120.8" y="405" width="12.2" height="12.2" fill="#1ef01e" stroke="none" stroke-width="0"/>
<rect x="373" y="405" width="13" height="12.2" fill="#1ef01e" stroke="none" stroke-width="0"/>
<rect x="120.8" y="422" width="12.2" height="12.2" fill="#ea0008" stroke="none" stroke-width="0"/>
<rect x="373" y="422" width="13" height="12.2" fill="#ea0008" stroke="none" stroke-width="0"/>
<text x="138" y="398.6" font-size="10.2" text-anchor="start" fill="#111" textLength="36.25" lengthAdjust="spacingAndGlyphs" >NS + Qn</text>
<text x="390.5" y="398.6" font-size="10.2" text-anchor="start" fill="#111" textLength="54" lengthAdjust="spacingAndGlyphs" >NS IgG + Qn</text>
<text x="138" y="415.6" font-size="10.2" text-anchor="start" fill="#111" textLength="43.25" lengthAdjust="spacingAndGlyphs" >QITS - Qn</text>
<text x="390.5" y="415.6" font-size="10.2" text-anchor="start" fill="#111" textLength="54.5" lengthAdjust="spacingAndGlyphs" >QIT IgG - Qn</text>
<text x="138" y="432.6" font-size="10.2" text-anchor="start" fill="#111" textLength="44.5" lengthAdjust="spacingAndGlyphs" >QITS + Qn</text>
<text x="390.5" y="432.6" font-size="10.2" text-anchor="start" fill="#111" textLength="57" lengthAdjust="spacingAndGlyphs" >QIT IgG + Qn</text>
<text x="4" y="11.8" font-size="13" text-anchor="start" fill="#000" font-weight="bold" >A</text>
<text x="4.6" y="448" font-size="14" text-anchor="start" fill="#000" font-weight="bold" >B</text>
<text x="4.2" y="603.6" font-size="14" text-anchor="start" fill="#000" font-weight="bold" >C</text>
<line x1="33.3" y1="563" x2="68.3" y2="538" stroke="#333" stroke-width="0.7" />
<line x1="58.39" y1="563.62" x2="93.26" y2="538.5" stroke="#333" stroke-width="0.7" />
<line x1="83.47" y1="564.25" x2="118.22" y2="539" stroke="#333" stroke-width="0.7" />
<line x1="108.56" y1="564.88" x2="143.19" y2="539.5" stroke="#333" stroke-width="0.7" />
<line x1="133.65" y1="565.5" x2="168.15" y2="540" stroke="#333" stroke-width="0.7" />
<line x1="158.74" y1="566.12" x2="193.11" y2="540.5" stroke="#333" stroke-width="0.7" />
<line x1="183.82" y1="566.75" x2="218.07" y2="541" stroke="#333" stroke-width="0.7" />
<line x1="208.91" y1="567.38" x2="243.04" y2="541.5" stroke="#333" stroke-width="0.7" />
<line x1="234" y1="568" x2="268" y2="542" stroke="#333" stroke-width="0.7" />
<line x1="68.3" y1="538" x2="268" y2="542" stroke="#444" stroke-width="0.7" />
<line x1="51" y1="550.5" x2="250" y2="555" stroke="#444" stroke-width="0.7" />
<line x1="33.3" y1="563" x2="234" y2="568" stroke="#444" stroke-width="0.7" />
<line x1="68.3" y1="446" x2="68.3" y2="538" stroke="#d03030" stroke-width="1" />
<line x1="51" y1="446" x2="51" y2="550.5" stroke="#40c040" stroke-width="1" />
<line x1="33.3" y1="446" x2="33.3" y2="563" stroke="#3a3aa0" stroke-width="1.1" />
<path d="M68.5,536.62L69.4,538.02L70.3,538.04L71.2,538.06L72.1,535.46L73,538.09L73.9,538.11L74.8,538.13L75.7,538.15L76.6,538.17L77.5,538.18L78.4,536.49L79.3,538.22L80.2,538.24L81.1,538.26L82,538.27L82.9,536.23L83.8,536L84.7,538.33L85.6,538.35L86.5,538.36L87.4,536.21L88.3,538.4L89.2,538.42L90.1,538.44L91,536.41L91.9,538.47L92.8,538.49L93.7,537.57L94.6,538.53L95.5,538.54L96.4,538.56L97.3,538.58L98.2,538.6L99.1,538.62L100,538.63L100.9,538.65L101.8,537.75L102.7,538.69L103.6,537.71L104.5,538.73L105.4,538.74L106.3,536.72L107.2,538.78L108.1,538.8L109,538.82L109.9,537.32L110.8,536.84L111.7,538.87L112.6,536.12L113.5,536.72L114.4,538.92L115.3,538.94L116.2,538.96L117.1,538.98L118,539L118.9,539.01L119.8,539.03L120.7,539.05L121.6,537.5L122.5,539.09L123.4,539.1L124.3,539.12L125.2,539.14L126.1,539.16L127,539.18L127.9,539.19L128.8,539.21L129.7,537.83L130.6,539.25L131.5,537.23L132.4,539.28L133.3,539.3L134.2,539.32L135.1,539.34L136,539.36L136.9,539.37L137.8,539.39L138.7,539.41L139.6,539.43L140.5,537.12L141.4,537.13L142.3,536.14L143.2,535.4L144.1,534.35L145,533.48L145.9,534.31L146.8,534.43L147.7,534.84L148.6,534.97L149.5,532L150.4,533.42L151.3,533.53L152.2,533.19L153.1,531.45L154,531.56L154.9,530.58L155.8,532.86L156.7,531.89L157.6,534.13L158.5,529.11L159.4,529.2L160.3,529.8L161.2,530.88L162.1,524.9L163,525.72L163.9,524.35L164.8,521.59L165.7,524.11L166.6,518.78L167.5,517.87L168.4,515.56L169.3,511.12L170.2,510.27L171.1,514.04L172,508.21L172.9,508.16L173.8,503.09L174.7,499.8L175.6,491.46L176.5,493.74L177.4,497.24L178.3,494.07L179.2,491.06L180.1,489.7L181,488.09L181.9,482.3L182.8,487.08L183.7,480.35L184.6,489.93L185.5,480.59L186.4,482.69L187.3,481.95L188.2,483.26L189.1,480.68L190,476.67L190.9,484.67L191.8,476.29L192.7,470.77L193.6,490.58L194.5,486.24L195.4,487.02L196.3,481.66L197.2,482.37L198.1,487.83L199,484.02L199.9,496.69L200.8,485.8L201.7,495.82L202.6,491.83L203.5,492.23L204.4,498.88L205.3,502.72L206.2,510.07L207.1,505.77L208,504.02L208.9,506.54L209.8,508.58L210.7,513.83L211.6,515.57L212.5,516.62L213.4,519.28L214.3,519.39L215.2,522.61L216.1,524.91L217,527.05L217.9,526.05L218.8,528.43L219.7,528.48L220.6,529.54L221.5,532.59L222.4,532.96L223.3,533.21L224.2,531.57L225.1,535.23L226,535.21L226.9,535.57L227.8,536.2L228.7,536.52L229.6,536.94L230.5,538.96L231.4,537.56L232.3,538.57L233.2,539.01L234.1,541.32L235,539.77L235.9,541.36L236.8,541.38L237.7,541.39L238.6,538.95L239.5,541.43" fill="none" stroke="#e03030" stroke-width="0.95" stroke-linejoin="round"/>
<path d="M51.3,550.51L52.2,550.53L53.1,550.55L54,549.52L54.9,548.72L55.8,550.61L56.7,550.63L57.6,550.65L58.5,550.67L59.4,550.69L60.3,550.71L61.2,550.73L62.1,550.75L63,550.77L63.9,548.89L64.8,550.81L65.7,550.83L66.6,550.85L67.5,550.87L68.4,550.89L69.3,550.91L70.2,550.93L71.1,550.95L72,548.34L72.9,551L73.8,551.02L74.7,548.42L75.6,551.06L76.5,551.08L77.4,551.1L78.3,551.12L79.2,551.14L80.1,551.16L81,551.18L81.9,548.48L82.8,549.46L83.7,551.24L84.6,549.54L85.5,549.74L86.4,548.65L87.3,551.32L88.2,551.34L89.1,551.36L90,551.38L90.9,551.4L91.8,551.42L92.7,551.44L93.6,551.46L94.5,549.49L95.4,551.5L96.3,551.52L97.2,551.54L98.1,551.57L99,550.34L99.9,551.61L100.8,551.63L101.7,551.65L102.6,551.67L103.5,551.69L104.4,551.71L105.3,551.73L106.2,551.75L107.1,551.77L108,551.79L108.9,551.81L109.8,551.83L110.7,550.99L111.6,551.87L112.5,551.89L113.4,551.91L114.3,551.93L115.2,551.95L116.1,549.67L117,551.99L117.9,549.32L118.8,552.03L119.7,552.05L120.6,552.07L121.5,552.09L122.4,552.11L123.3,552.13L124.2,550.62L125.1,552.18L126,552.2L126.9,552.22L127.8,550L128.7,552.26L129.6,552.28L130.5,552.3L131.4,551.32L132.3,550.03L133.2,549.75L134.1,550.38L135,552.4L135.9,551.4L136.8,550.36L137.7,547.38L138.6,547.76L139.5,548.31L140.4,546.34L141.3,545.23L142.2,547.74L143.1,546.64L144,541.76L144.9,545.63L145.8,541.73L146.7,541.13L147.6,540.84L148.5,543.88L149.4,543.26L150.3,540.34L151.2,539.87L152.1,538.7L153,541.01L153.9,537.26L154.8,537.12L155.7,535.82L156.6,533.3L157.5,535.75L158.4,527.2L159.3,532.02L160.2,520.55L161.1,523.98L162,522.74L162.9,517.12L163.8,515.56L164.7,512.66L165.6,512.74L166.5,509.5L167.4,499.77L168.3,502.38L169.2,498.08L170.1,505.98L171,504.16L171.9,494.41L172.8,501.82L173.7,497.39L174.6,493.7L175.5,486.28L176.4,494.47L177.3,493.3L178.2,498.66L179.1,490.63L180,493.83L180.9,494.51L181.8,499.19L182.7,493.87L183.6,503.01L184.5,498.92L185.4,500.08L186.3,503.68L187.2,504.51L188.1,506.41L189,506.38L189.9,512.05L190.8,509.8L191.7,507.25L192.6,514.51L193.5,517.17L194.4,513.34L195.3,512.94L196.2,518.93L197.1,517.43L198,520.66L198.9,528.79L199.8,527.01L200.7,525.25L201.6,521.53L202.5,532.17L203.4,525.25L204.3,531.77L205.2,529.98L206.1,527.31L207,527.58L207.9,532.06L208.8,532.53L209.7,531.63L210.6,531.21L211.5,535.37L212.4,537.01L213.3,537.53L214.2,538.87L215.1,539.84L216,542.58L216.9,544.18L217.8,547.17L218.7,549.93L219.6,547.84L220.5,550.33L221.4,550.39L222.3,552.79L223.2,553.01L224.1,553.51L225,554.43L225.9,554.46L226.8,554.48L227.7,554.5L228.6,554.52L229.5,554.54L230.4,554.56L231.3,554.58L232.2,554.6L233.1,554.62L234,551.99L234.9,552.02" fill="none" stroke="#30d030" stroke-width="0.95" stroke-linejoin="round"/>
<path d="M33.5,563L34.4,563.03L35.3,563.05L36.2,563.07L37.1,563.09L38,560.45L38.9,563.14L39.8,563.16L40.7,563.18L41.6,563.21L42.5,563.23L43.4,561.84L44.3,563.27L45.2,563.3L46.1,563.32L47,563.34L47.9,563.36L48.8,563.39L49.7,560.7L50.6,563.43L51.5,563.45L52.4,563.48L53.3,561.48L54.2,563.52L55.1,561.71L56,563.57L56.9,563.59L57.8,561.31L58.7,563.63L59.6,563.66L60.5,563.68L61.4,563.7L62.3,563.72L63.2,561.64L64.1,563.77L65,563.79L65.9,561.67L66.8,563.83L67.7,563.86L68.6,562.84L69.5,562.09L70.4,563.92L71.3,563.95L72.2,563.97L73.1,561.4L74,564.01L74.9,562.57L75.8,564.06L76.7,564.08L77.6,562.29L78.5,561.79L79.4,564.15L80.3,564.17L81.2,564.19L82.1,564.22L83,564.24L83.9,562.83L84.8,564.28L85.7,564.31L86.6,564.33L87.5,564.35L88.4,564.37L89.3,561.71L90.2,564.42L91.1,564.44L92,564.46L92.9,562.1L93.8,561.78L94.7,564.53L95.6,562.2L96.5,562L97.4,562.34L98.3,564.62L99.2,564.64L100.1,564.66L101,564.69L101.9,563.04L102.8,564.73L103.7,562.64L104.6,564.78L105.5,564.8L106.4,562.4L107.3,562.86L108.2,563.78L109.1,564.89L110,564.91L110.9,564.93L111.8,564.96L112.7,564.98L113.6,565L114.5,565.02L115.4,565.05L116.3,565.07L117.2,565.09L118.1,565.11L119,565.14L119.9,565.16L120.8,565.18L121.7,564.17L122.6,565.22L123.5,563.92L124.4,562.59L125.3,563.05L126.2,562.82L127.1,561.75L128,558.34L128.9,559.2L129.8,560.93L130.7,554.54L131.6,558.43L132.5,555.5L133.4,554.22L134.3,556.01L135.2,554.24L136.1,549.49L137,549.03L137.9,548.13L138.8,546.92L139.7,546.08L140.6,546.31L141.5,545.17L142.4,542.96L143.3,541.93L144.2,539.77L145.1,532.51L146,524.35L146.9,529.03L147.8,527.91L148.7,519.63L149.6,515.84L150.5,509.02L151.4,509.97L152.3,507.9L153.2,502.88L154.1,500.74L155,496.9L155.9,501.81L156.8,501.69L157.7,500.58L158.6,493.95L159.5,485.45L160.4,499.72L161.3,503.93L162.2,493.62L163.1,496.4L164,508.91L164.9,508.99L165.8,504.99L166.7,505.23L167.6,508.96L168.5,509.07L169.4,512.07L170.3,515.99L171.2,515.37L172.1,518.72L173,522.77L173.9,526.98L174.8,522.56L175.7,528.19L176.6,528.64L177.5,529.08L178.4,528.4L179.3,531.53L180.2,533.49L181.1,532.45L182,537.05L182.9,532.58L183.8,532.78L184.7,540.41L185.6,532.59L186.5,534.41L187.4,539.29L188.3,544.05L189.2,539.09L190.1,545.38L191,546.63L191.9,547.91L192.8,547.79L193.7,551.13L194.6,553.75L195.5,554.36L196.4,558.62L197.3,559.07L198.2,562.61L199.1,564.16L200,567.15L200.9,567.18L201.8,567.2L202.7,567.22L203.6,567.24L204.5,567.27L205.4,565.78L206.3,565.18L207.2,567.33L208.1,565.78L209,567.38L209.9,565.04L210.8,567.42L211.7,567.44L212.6,567.47L213.5,567.49L214.4,567.51L215.3,567.53L216.2,567.56L217.1,566.65L218,565.48L218.9,567.62L219.8,564.89L220.7,567.67L221.6,567.69" fill="none" stroke="#2828c8" stroke-width="0.95" stroke-linejoin="round"/>
<text x="24.4" y="498.2" font-size="9.4" text-anchor="middle" fill="#1a1a1a" stroke="#1a1a1a" stroke-width="0.2" textLength="37.2" lengthAdjust="spacingAndGlyphs" transform="rotate(-90 24.4 498.2)" >Cell Counts</text>
<line x1="32.6" y1="576.5" x2="104.6" y2="576.5" stroke="#555" stroke-width="1" />
<text x="128.3" y="579.6" font-size="8.6" text-anchor="start" fill="#1a1a1a" stroke="#1a1a1a" stroke-width="0.2" textLength="16.3" lengthAdjust="spacingAndGlyphs" >GPIX</text>
<line x1="164.6" y1="576.7" x2="240" y2="576.7" stroke="#222" stroke-width="1" />
<path d="M238.5,572.7L250.2,576.7L238.5,580.7Z" fill="#111"/>
<line x1="66" y1="603.8" x2="66" y2="655.8" stroke="#1a1a1a" stroke-width="1.4" />
<line x1="65.3" y1="655.8" x2="67.6" y2="655.8" stroke="#1a1a1a" stroke-width="1.2" />
<line x1="62.5" y1="604.2" x2="66" y2="604.2" stroke="#1a1a1a" stroke-width="1" />
<text x="61" y="606.7" font-size="7.2" text-anchor="end" fill="#222" stroke="#222" stroke-width="0.1" textLength="21.3" lengthAdjust="spacingAndGlyphs" >140000</text>
<line x1="62.5" y1="620.1" x2="66" y2="620.1" stroke="#1a1a1a" stroke-width="1" />
<text x="61" y="622.6" font-size="7.2" text-anchor="end" fill="#222" stroke="#222" stroke-width="0.1" textLength="21.3" lengthAdjust="spacingAndGlyphs" >120000</text>
<line x1="62.5" y1="636" x2="66" y2="636" stroke="#1a1a1a" stroke-width="1" />
<text x="61" y="638.5" font-size="7.2" text-anchor="end" fill="#222" stroke="#222" stroke-width="0.1" textLength="21.3" lengthAdjust="spacingAndGlyphs" >100000</text>
<line x1="62.5" y1="651.8" x2="66" y2="651.8" stroke="#1a1a1a" stroke-width="1" />
<text x="61" y="654.3" font-size="7.2" text-anchor="end" fill="#222" stroke="#222" stroke-width="0.1" textLength="18.2" lengthAdjust="spacingAndGlyphs" >80000</text>
<line x1="66" y1="663.3" x2="66" y2="722.2" stroke="#1a1a1a" stroke-width="1.4" />
<line x1="65.3" y1="663.6" x2="67.6" y2="663.6" stroke="#1a1a1a" stroke-width="1.2" />
<line x1="62.5" y1="663.29" x2="66" y2="663.29" stroke="#1a1a1a" stroke-width="1" />
<text x="61" y="665.79" font-size="7.2" text-anchor="end" fill="#222" stroke="#222" stroke-width="0.1" textLength="18.2" lengthAdjust="spacingAndGlyphs" >30000</text>
<line x1="62.5" y1="682.76" x2="66" y2="682.76" stroke="#1a1a1a" stroke-width="1" />
<text x="61" y="685.26" font-size="7.2" text-anchor="end" fill="#222" stroke="#222" stroke-width="0.1" textLength="18.2" lengthAdjust="spacingAndGlyphs" >20000</text>
<line x1="62.5" y1="702.23" x2="66" y2="702.23" stroke="#1a1a1a" stroke-width="1" />
<text x="61" y="704.73" font-size="7.2" text-anchor="end" fill="#222" stroke="#222" stroke-width="0.1" textLength="18.2" lengthAdjust="spacingAndGlyphs" >10000</text>
<line x1="62.5" y1="721.7" x2="66" y2="721.7" stroke="#1a1a1a" stroke-width="1" />
<text x="61" y="724.2" font-size="7.2" text-anchor="end" fill="#222" stroke="#222" stroke-width="0.1" textLength="3.8" lengthAdjust="spacingAndGlyphs" >0</text>
<line x1="65.3" y1="721.8" x2="228" y2="721.8" stroke="#1a1a1a" stroke-width="1.4" />
<line x1="92.8" y1="721.8" x2="92.8" y2="725.5" stroke="#1a1a1a" stroke-width="1.2" />
<line x1="147.1" y1="721.8" x2="147.1" y2="725.5" stroke="#1a1a1a" stroke-width="1.2" />
<line x1="201.4" y1="721.8" x2="201.4" y2="725.5" stroke="#1a1a1a" stroke-width="1.2" />
<text x="33.4" y="662" font-size="8.2" text-anchor="middle" fill="#111" stroke="#111" stroke-width="0.1" textLength="74.5" lengthAdjust="spacingAndGlyphs" transform="rotate(-90 33.4 662)" >Number of Receptors</text>
<rect x="73.6" y="687.1" width="9.6" height="34.4" fill="#3322dd" stroke="#1a1a1a" stroke-width="1"/>
<line x1="78.4" y1="687.1" x2="78.4" y2="682.5" stroke="#1a1a1a" stroke-width="1.1" />
<line x1="75.8" y1="682.5" x2="81" y2="682.5" stroke="#1a1a1a" stroke-width="1.3" />
<rect x="88.3" y="687.7" width="9.6" height="33.8" fill="#22ee22" stroke="#1a1a1a" stroke-width="1"/>
<line x1="93.1" y1="687.7" x2="93.1" y2="684.5" stroke="#1a1a1a" stroke-width="1.1" />
<line x1="90.5" y1="684.5" x2="95.7" y2="684.5" stroke="#1a1a1a" stroke-width="1.3" />
<rect x="103" y="707.9" width="9.4" height="13.6" fill="#ee1111" stroke="#1a1a1a" stroke-width="1"/>
<line x1="107.7" y1="707.9" x2="107.7" y2="704.2" stroke="#1a1a1a" stroke-width="1.1" />
<line x1="105.1" y1="704.2" x2="110.3" y2="704.2" stroke="#1a1a1a" stroke-width="1.3" />
<rect x="127.6" y="683.8" width="10" height="37.7" fill="#3322dd" stroke="#1a1a1a" stroke-width="1"/>
<line x1="132.6" y1="683.8" x2="132.6" y2="682.9" stroke="#1a1a1a" stroke-width="1.1" />
<line x1="130" y1="682.9" x2="135.2" y2="682.9" stroke="#1a1a1a" stroke-width="1.3" />
<rect x="142.4" y="689.4" width="9.8" height="32.1" fill="#22ee22" stroke="#1a1a1a" stroke-width="1"/>
<line x1="147.3" y1="689.4" x2="147.3" y2="686.5" stroke="#1a1a1a" stroke-width="1.1" />
<line x1="144.7" y1="686.5" x2="149.9" y2="686.5" stroke="#1a1a1a" stroke-width="1.3" />
<rect x="157.2" y="715.4" width="9.8" height="6.1" fill="#ee1111" stroke="#1a1a1a" stroke-width="1"/>
<line x1="162.1" y1="715.4" x2="162.1" y2="710.2" stroke="#1a1a1a" stroke-width="1.1" />
<line x1="159.5" y1="710.2" x2="164.7" y2="710.2" stroke="#1a1a1a" stroke-width="1.3" />
<rect x="181.3" y="635.4" width="10.8" height="20.2" fill="#1a1a1a" stroke="none" stroke-width="0"/>
<rect x="182.3" y="636.4" width="8.8" height="19.2" fill="#3322dd" stroke="none" stroke-width="0"/>
<rect x="181.3" y="664.4" width="10.8" height="57.6" fill="#1a1a1a" stroke="none" stroke-width="0"/>
<rect x="182.3" y="664.4" width="8.8" height="56.6" fill="#3322dd" stroke="none" stroke-width="0"/>
<line x1="186.7" y1="635.9" x2="186.7" y2="626" stroke="#1a1a1a" stroke-width="1.1" />
<line x1="184.1" y1="626" x2="189.3" y2="626" stroke="#1a1a1a" stroke-width="1.3" />
<rect x="196" y="631.9" width="10.8" height="23.7" fill="#1a1a1a" stroke="none" stroke-width="0"/>
<rect x="197" y="632.9" width="8.8" height="22.7" fill="#22ee22" stroke="none" stroke-width="0"/>
<rect x="196" y="664.4" width="10.8" height="57.6" fill="#1a1a1a" stroke="none" stroke-width="0"/>
<rect x="197" y="664.4" width="8.8" height="56.6" fill="#22ee22" stroke="none" stroke-width="0"/>
<line x1="201.4" y1="632.4" x2="201.4" y2="618.8" stroke="#1a1a1a" stroke-width="1.1" />
<line x1="198.8" y1="618.8" x2="204" y2="618.8" stroke="#1a1a1a" stroke-width="1.3" />
<rect x="211" y="640.4" width="10.8" height="15.2" fill="#1a1a1a" stroke="none" stroke-width="0"/>
<rect x="212" y="641.4" width="8.8" height="14.2" fill="#ee1111" stroke="none" stroke-width="0"/>
<rect x="211" y="664.4" width="10.8" height="57.6" fill="#1a1a1a" stroke="none" stroke-width="0"/>
<rect x="212" y="664.4" width="8.8" height="56.6" fill="#ee1111" stroke="none" stroke-width="0"/>
<line x1="216.4" y1="640.9" x2="216.4" y2="639.6" stroke="#1a1a1a" stroke-width="1.1" />
<line x1="213.8" y1="639.6" x2="219" y2="639.6" stroke="#1a1a1a" stroke-width="1.3" />
<line x1="92.9" y1="678.6" x2="108.3" y2="678.6" stroke="#1a1a1a" stroke-width="1.3" />
<line x1="92.9" y1="676" x2="92.9" y2="682" stroke="#1a1a1a" stroke-width="1.2" />
<line x1="108.3" y1="676" x2="108.3" y2="682" stroke="#1a1a1a" stroke-width="1.2" />
<line x1="147.1" y1="681.4" x2="162.7" y2="681.4" stroke="#1a1a1a" stroke-width="1.3" />
<line x1="147.1" y1="678.8" x2="147.1" y2="684.8" stroke="#1a1a1a" stroke-width="1.2" />
<line x1="162.7" y1="678.8" x2="162.7" y2="684.8" stroke="#1a1a1a" stroke-width="1.2" />
<text x="86.9" y="673.6" font-size="8.2" fill="#222" textLength="28.3" lengthAdjust="spacingAndGlyphs"><tspan font-style="italic">P</tspan> = .034</text>
<text x="141.3" y="676.8" font-size="8.2" fill="#222" textLength="27.7" lengthAdjust="spacingAndGlyphs"><tspan font-style="italic">P</tspan> = .048</text>
<text x="94.5" y="731" font-size="7.6" fill="#333" text-anchor="end" textLength="17.5" lengthAdjust="spacingAndGlyphs" transform="rotate(-45 94.5 731)">GPIX</text>
<text x="149.2" y="731" font-size="7.6" fill="#333" text-anchor="end" textLength="22" lengthAdjust="spacingAndGlyphs" transform="rotate(-45 149.2 731)">GPIbα</text>
<text x="204" y="731" font-size="7.6" fill="#333" text-anchor="end" textLength="21" lengthAdjust="spacingAndGlyphs" transform="rotate(-45 204 731)">GPIIb</text>
<rect x="228.3" y="629.8" width="11.6" height="6.8" fill="#3322dd" stroke="#1a1a1a" stroke-width="0.9"/>
<text x="244.6" y="636.4" font-size="8.6" text-anchor="start" fill="#1a1a1a" stroke="#1a1a1a" stroke-width="0.15" textLength="25.4" lengthAdjust="spacingAndGlyphs" >NS+Qn</text>
<rect x="228.3" y="641" width="11.6" height="6.8" fill="#22ee22" stroke="#1a1a1a" stroke-width="0.9"/>
<text x="244.6" y="647.6" font-size="8.6" text-anchor="start" fill="#1a1a1a" stroke="#1a1a1a" stroke-width="0.15" textLength="30" lengthAdjust="spacingAndGlyphs" >QITS-Qn</text>
<rect x="228.3" y="652.2" width="11.6" height="6.8" fill="#ee1111" stroke="#1a1a1a" stroke-width="0.9"/>
<text x="244.6" y="658.8" font-size="8.6" text-anchor="start" fill="#1a1a1a" stroke="#1a1a1a" stroke-width="0.15" textLength="32" lengthAdjust="spacingAndGlyphs" >QITS+Qn</text>
</svg>
</body></html>
